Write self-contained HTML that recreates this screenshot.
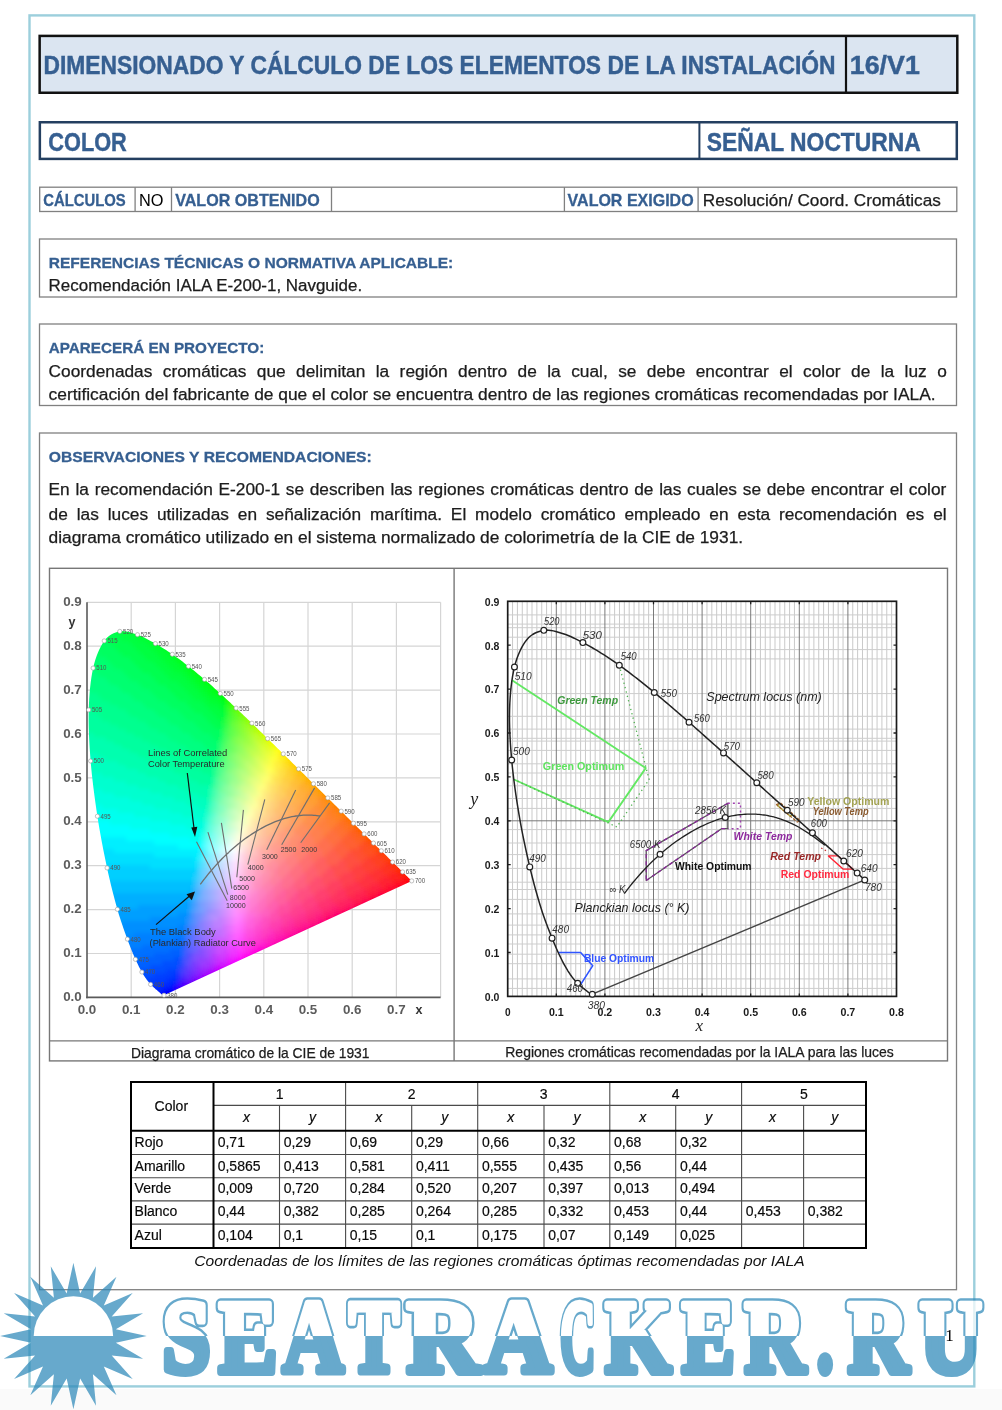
<!DOCTYPE html>
<html><head><meta charset="utf-8"><title>Color</title><style>
html,body{margin:0;padding:0;background:#fff;overflow:hidden}
svg{display:block}
text{font-family:"Liberation Sans",Arial,sans-serif}
text.ser{font-family:"Liberation Serif",serif}
</style></head><body>
<svg width="1002" height="1410" viewBox="0 0 1002 1410">
<rect x="0.00" y="1389.00" width="1002.00" height="21.00" fill="#fafafa"/>
<rect x="29.50" y="15.40" width="944.80" height="1371.00" fill="none" stroke="#9ccfdc" stroke-width="2.40"/>
<rect x="39.65" y="35.90" width="917.65" height="56.85" fill="#DBE5F1" stroke="#111" stroke-width="2.50"/>
<line x1="846.00" y1="35.90" x2="846.00" y2="92.75" stroke="#111" stroke-width="2.20"/>
<text x="43.50" y="74.40" font-size="25.60" fill="#365F91" font-weight="bold" stroke="#365F91" stroke-width="0.45" textLength="792.00" lengthAdjust="spacingAndGlyphs">DIMENSIONADO Y CÁLCULO DE LOS ELEMENTOS DE LA INSTALACIÓN</text>
<text x="849.80" y="74.40" font-size="25.60" fill="#365F91" font-weight="bold" stroke="#365F91" stroke-width="0.45" textLength="70.00" lengthAdjust="spacingAndGlyphs">16/V1</text>
<rect x="39.85" y="122.25" width="916.95" height="36.65" fill="#fff" stroke="#243F60" stroke-width="2.50"/>
<line x1="699.40" y1="122.25" x2="699.40" y2="158.90" stroke="#243F60" stroke-width="2.00"/>
<text x="48.30" y="150.90" font-size="25.40" fill="#365F91" font-weight="bold" stroke="#365F91" stroke-width="0.45" textLength="78.50" lengthAdjust="spacingAndGlyphs">COLOR</text>
<text x="706.80" y="150.50" font-size="25.40" fill="#365F91" font-weight="bold" stroke="#365F91" stroke-width="0.45" textLength="214.00" lengthAdjust="spacingAndGlyphs">SEÑAL NOCTURNA</text>
<rect x="39.70" y="187.20" width="917.10" height="24.30" fill="none" stroke="#808080" stroke-width="1.30"/>
<line x1="135.10" y1="187.20" x2="135.10" y2="211.50" stroke="#808080" stroke-width="1.30"/>
<line x1="171.50" y1="187.20" x2="171.50" y2="211.50" stroke="#808080" stroke-width="1.30"/>
<line x1="331.50" y1="187.20" x2="331.50" y2="211.50" stroke="#808080" stroke-width="1.30"/>
<line x1="564.40" y1="187.20" x2="564.40" y2="211.50" stroke="#808080" stroke-width="1.30"/>
<line x1="698.10" y1="187.20" x2="698.10" y2="211.50" stroke="#808080" stroke-width="1.30"/>
<text x="43.20" y="206.00" font-size="16.40" fill="#365F91" font-weight="bold" stroke="#365F91" stroke-width="0.30" textLength="82.50" lengthAdjust="spacingAndGlyphs">CÁLCULOS</text>
<text x="139.00" y="206.00" font-size="16.40" fill="#000" textLength="24.50" lengthAdjust="spacingAndGlyphs">NO</text>
<text x="175.20" y="206.00" font-size="16.40" fill="#365F91" font-weight="bold" stroke="#365F91" stroke-width="0.30" textLength="144.50" lengthAdjust="spacingAndGlyphs">VALOR OBTENIDO</text>
<text x="567.60" y="206.00" font-size="16.40" fill="#365F91" font-weight="bold" stroke="#365F91" stroke-width="0.30" textLength="126.00" lengthAdjust="spacingAndGlyphs">VALOR EXIGIDO</text>
<text x="702.80" y="206.00" font-size="16.40" fill="#1c1c1c" stroke="#1c1c1c" stroke-width="0.25" textLength="238.00" lengthAdjust="spacingAndGlyphs">Resolución/ Coord. Cromáticas</text>
<rect x="39.50" y="239.00" width="917.00" height="58.00" fill="none" stroke="#808080" stroke-width="1.30"/>
<text x="48.80" y="268.00" font-size="15.50" fill="#365F91" font-weight="bold" stroke="#365F91" stroke-width="0.30" textLength="404.50" lengthAdjust="spacingAndGlyphs">REFERENCIAS TÉCNICAS O NORMATIVA APLICABLE:</text>
<text x="48.60" y="291.00" font-size="16.00" fill="#1c1c1c" stroke="#1c1c1c" stroke-width="0.25" textLength="313.50" lengthAdjust="spacingAndGlyphs">Recomendación IALA E-200-1, Navguide.</text>
<rect x="39.50" y="324.00" width="917.00" height="81.50" fill="none" stroke="#808080" stroke-width="1.30"/>
<text x="48.80" y="353.40" font-size="15.50" fill="#365F91" font-weight="bold" stroke="#365F91" stroke-width="0.30" textLength="215.50" lengthAdjust="spacingAndGlyphs">APARECERÁ EN PROYECTO:</text>
<text x="48.60" y="376.50" font-size="16.00" fill="#1c1c1c" stroke="#1c1c1c" stroke-width="0.25" textLength="103.76" lengthAdjust="spacingAndGlyphs">Coordenadas</text>
<text x="162.82" y="376.50" font-size="16.00" fill="#1c1c1c" stroke="#1c1c1c" stroke-width="0.25" textLength="83.54" lengthAdjust="spacingAndGlyphs">cromáticas</text>
<text x="256.82" y="376.50" font-size="16.00" fill="#1c1c1c" stroke="#1c1c1c" stroke-width="0.25" textLength="28.83" lengthAdjust="spacingAndGlyphs">que</text>
<text x="296.11" y="376.50" font-size="16.00" fill="#1c1c1c" stroke="#1c1c1c" stroke-width="0.25" textLength="69.16" lengthAdjust="spacingAndGlyphs">delimitan</text>
<text x="375.73" y="376.50" font-size="16.00" fill="#1c1c1c" stroke="#1c1c1c" stroke-width="0.25" textLength="13.45" lengthAdjust="spacingAndGlyphs">la</text>
<text x="399.64" y="376.50" font-size="16.00" fill="#1c1c1c" stroke="#1c1c1c" stroke-width="0.25" textLength="48.04" lengthAdjust="spacingAndGlyphs">región</text>
<text x="458.14" y="376.50" font-size="16.00" fill="#1c1c1c" stroke="#1c1c1c" stroke-width="0.25" textLength="49.00" lengthAdjust="spacingAndGlyphs">dentro</text>
<text x="517.59" y="376.50" font-size="16.00" fill="#1c1c1c" stroke="#1c1c1c" stroke-width="0.25" textLength="19.22" lengthAdjust="spacingAndGlyphs">de</text>
<text x="547.28" y="376.50" font-size="16.00" fill="#1c1c1c" stroke="#1c1c1c" stroke-width="0.25" textLength="13.45" lengthAdjust="spacingAndGlyphs">la</text>
<text x="571.19" y="376.50" font-size="16.00" fill="#1c1c1c" stroke="#1c1c1c" stroke-width="0.25" textLength="36.50" lengthAdjust="spacingAndGlyphs">cual,</text>
<text x="618.15" y="376.50" font-size="16.00" fill="#1c1c1c" stroke="#1c1c1c" stroke-width="0.25" textLength="18.25" lengthAdjust="spacingAndGlyphs">se</text>
<text x="646.86" y="376.50" font-size="16.00" fill="#1c1c1c" stroke="#1c1c1c" stroke-width="0.25" textLength="38.44" lengthAdjust="spacingAndGlyphs">debe</text>
<text x="695.76" y="376.50" font-size="16.00" fill="#1c1c1c" stroke="#1c1c1c" stroke-width="0.25" textLength="73.00" lengthAdjust="spacingAndGlyphs">encontrar</text>
<text x="779.22" y="376.50" font-size="16.00" fill="#1c1c1c" stroke="#1c1c1c" stroke-width="0.25" textLength="13.45" lengthAdjust="spacingAndGlyphs">el</text>
<text x="803.13" y="376.50" font-size="16.00" fill="#1c1c1c" stroke="#1c1c1c" stroke-width="0.25" textLength="37.46" lengthAdjust="spacingAndGlyphs">color</text>
<text x="851.05" y="376.50" font-size="16.00" fill="#1c1c1c" stroke="#1c1c1c" stroke-width="0.25" textLength="19.22" lengthAdjust="spacingAndGlyphs">de</text>
<text x="880.73" y="376.50" font-size="16.00" fill="#1c1c1c" stroke="#1c1c1c" stroke-width="0.25" textLength="13.45" lengthAdjust="spacingAndGlyphs">la</text>
<text x="904.64" y="376.50" font-size="16.00" fill="#1c1c1c" stroke="#1c1c1c" stroke-width="0.25" textLength="22.09" lengthAdjust="spacingAndGlyphs">luz</text>
<text x="937.19" y="376.50" font-size="16.00" fill="#1c1c1c" stroke="#1c1c1c" stroke-width="0.25" textLength="9.61" lengthAdjust="spacingAndGlyphs">o</text>
<text x="48.60" y="400.30" font-size="16.00" fill="#1c1c1c" stroke="#1c1c1c" stroke-width="0.25" textLength="887.00" lengthAdjust="spacingAndGlyphs">certificación del fabricante de que el color se encuentra dentro de las regiones cromáticas recomendadas por IALA.</text>
<rect x="39.50" y="433.00" width="917.00" height="856.70" fill="none" stroke="#808080" stroke-width="1.30"/>
<text x="48.80" y="462.20" font-size="15.50" fill="#365F91" font-weight="bold" stroke="#365F91" stroke-width="0.30" textLength="323.00" lengthAdjust="spacingAndGlyphs">OBSERVACIONES Y RECOMENDACIONES:</text>
<text x="48.60" y="495.40" font-size="16.00" fill="#1c1c1c" stroke="#1c1c1c" stroke-width="0.25" textLength="21.14" lengthAdjust="spacingAndGlyphs">En</text>
<text x="75.47" y="495.40" font-size="16.00" fill="#1c1c1c" stroke="#1c1c1c" stroke-width="0.25" textLength="13.45" lengthAdjust="spacingAndGlyphs">la</text>
<text x="94.66" y="495.40" font-size="16.00" fill="#1c1c1c" stroke="#1c1c1c" stroke-width="0.25" textLength="118.15" lengthAdjust="spacingAndGlyphs">recomendación</text>
<text x="218.55" y="495.40" font-size="16.00" fill="#1c1c1c" stroke="#1c1c1c" stroke-width="0.25" textLength="61.48" lengthAdjust="spacingAndGlyphs">E-200-1</text>
<text x="285.77" y="495.40" font-size="16.00" fill="#1c1c1c" stroke="#1c1c1c" stroke-width="0.25" textLength="18.25" lengthAdjust="spacingAndGlyphs">se</text>
<text x="309.75" y="495.40" font-size="16.00" fill="#1c1c1c" stroke="#1c1c1c" stroke-width="0.25" textLength="74.93" lengthAdjust="spacingAndGlyphs">describen</text>
<text x="390.42" y="495.40" font-size="16.00" fill="#1c1c1c" stroke="#1c1c1c" stroke-width="0.25" textLength="22.09" lengthAdjust="spacingAndGlyphs">las</text>
<text x="418.24" y="495.40" font-size="16.00" fill="#1c1c1c" stroke="#1c1c1c" stroke-width="0.25" textLength="66.29" lengthAdjust="spacingAndGlyphs">regiones</text>
<text x="490.27" y="495.40" font-size="16.00" fill="#1c1c1c" stroke="#1c1c1c" stroke-width="0.25" textLength="83.54" lengthAdjust="spacingAndGlyphs">cromáticas</text>
<text x="579.55" y="495.40" font-size="16.00" fill="#1c1c1c" stroke="#1c1c1c" stroke-width="0.25" textLength="49.00" lengthAdjust="spacingAndGlyphs">dentro</text>
<text x="634.28" y="495.40" font-size="16.00" fill="#1c1c1c" stroke="#1c1c1c" stroke-width="0.25" textLength="19.22" lengthAdjust="spacingAndGlyphs">de</text>
<text x="659.24" y="495.40" font-size="16.00" fill="#1c1c1c" stroke="#1c1c1c" stroke-width="0.25" textLength="22.09" lengthAdjust="spacingAndGlyphs">las</text>
<text x="687.06" y="495.40" font-size="16.00" fill="#1c1c1c" stroke="#1c1c1c" stroke-width="0.25" textLength="49.95" lengthAdjust="spacingAndGlyphs">cuales</text>
<text x="742.75" y="495.40" font-size="16.00" fill="#1c1c1c" stroke="#1c1c1c" stroke-width="0.25" textLength="18.25" lengthAdjust="spacingAndGlyphs">se</text>
<text x="766.74" y="495.40" font-size="16.00" fill="#1c1c1c" stroke="#1c1c1c" stroke-width="0.25" textLength="38.44" lengthAdjust="spacingAndGlyphs">debe</text>
<text x="810.92" y="495.40" font-size="16.00" fill="#1c1c1c" stroke="#1c1c1c" stroke-width="0.25" textLength="73.00" lengthAdjust="spacingAndGlyphs">encontrar</text>
<text x="889.66" y="495.40" font-size="16.00" fill="#1c1c1c" stroke="#1c1c1c" stroke-width="0.25" textLength="13.45" lengthAdjust="spacingAndGlyphs">el</text>
<text x="908.84" y="495.40" font-size="16.00" fill="#1c1c1c" stroke="#1c1c1c" stroke-width="0.25" textLength="37.46" lengthAdjust="spacingAndGlyphs">color</text>
<text x="48.60" y="519.60" font-size="16.00" fill="#1c1c1c" stroke="#1c1c1c" stroke-width="0.25" textLength="19.22" lengthAdjust="spacingAndGlyphs">de</text>
<text x="76.71" y="519.60" font-size="16.00" fill="#1c1c1c" stroke="#1c1c1c" stroke-width="0.25" textLength="22.09" lengthAdjust="spacingAndGlyphs">las</text>
<text x="107.70" y="519.60" font-size="16.00" fill="#1c1c1c" stroke="#1c1c1c" stroke-width="0.25" textLength="40.34" lengthAdjust="spacingAndGlyphs">luces</text>
<text x="156.93" y="519.60" font-size="16.00" fill="#1c1c1c" stroke="#1c1c1c" stroke-width="0.25" textLength="72.04" lengthAdjust="spacingAndGlyphs">utilizadas</text>
<text x="237.87" y="519.60" font-size="16.00" fill="#1c1c1c" stroke="#1c1c1c" stroke-width="0.25" textLength="19.22" lengthAdjust="spacingAndGlyphs">en</text>
<text x="265.98" y="519.60" font-size="16.00" fill="#1c1c1c" stroke="#1c1c1c" stroke-width="0.25" textLength="95.10" lengthAdjust="spacingAndGlyphs">señalización</text>
<text x="369.97" y="519.60" font-size="16.00" fill="#1c1c1c" stroke="#1c1c1c" stroke-width="0.25" textLength="72.01" lengthAdjust="spacingAndGlyphs">marítima.</text>
<text x="450.87" y="519.60" font-size="16.00" fill="#1c1c1c" stroke="#1c1c1c" stroke-width="0.25" textLength="15.37" lengthAdjust="spacingAndGlyphs">El</text>
<text x="475.13" y="519.60" font-size="16.00" fill="#1c1c1c" stroke="#1c1c1c" stroke-width="0.25" textLength="56.68" lengthAdjust="spacingAndGlyphs">modelo</text>
<text x="540.70" y="519.60" font-size="16.00" fill="#1c1c1c" stroke="#1c1c1c" stroke-width="0.25" textLength="74.90" lengthAdjust="spacingAndGlyphs">cromático</text>
<text x="624.50" y="519.60" font-size="16.00" fill="#1c1c1c" stroke="#1c1c1c" stroke-width="0.25" textLength="75.90" lengthAdjust="spacingAndGlyphs">empleado</text>
<text x="709.29" y="519.60" font-size="16.00" fill="#1c1c1c" stroke="#1c1c1c" stroke-width="0.25" textLength="19.22" lengthAdjust="spacingAndGlyphs">en</text>
<text x="737.40" y="519.60" font-size="16.00" fill="#1c1c1c" stroke="#1c1c1c" stroke-width="0.25" textLength="32.66" lengthAdjust="spacingAndGlyphs">esta</text>
<text x="778.96" y="519.60" font-size="16.00" fill="#1c1c1c" stroke="#1c1c1c" stroke-width="0.25" textLength="118.15" lengthAdjust="spacingAndGlyphs">recomendación</text>
<text x="906.01" y="519.60" font-size="16.00" fill="#1c1c1c" stroke="#1c1c1c" stroke-width="0.25" textLength="18.25" lengthAdjust="spacingAndGlyphs">es</text>
<text x="933.15" y="519.60" font-size="16.00" fill="#1c1c1c" stroke="#1c1c1c" stroke-width="0.25" textLength="13.45" lengthAdjust="spacingAndGlyphs">el</text>
<text x="48.60" y="543.20" font-size="16.00" fill="#1c1c1c" stroke="#1c1c1c" stroke-width="0.25" textLength="694.50" lengthAdjust="spacingAndGlyphs">diagrama cromático utilizado en el sistema normalizado de colorimetría de la CIE de 1931.</text>
<rect x="49.50" y="568.30" width="898.00" height="492.60" fill="none" stroke="#777" stroke-width="1.40"/>
<line x1="454.10" y1="568.30" x2="454.10" y2="1060.90" stroke="#777" stroke-width="1.40"/>
<line x1="49.50" y1="1040.90" x2="947.50" y2="1040.90" stroke="#777" stroke-width="1.40"/>
<text x="131.00" y="1057.50" font-size="14.20" fill="#1c1c1c" stroke="#1c1c1c" stroke-width="0.25" textLength="238.50" lengthAdjust="spacingAndGlyphs">Diagrama cromático de la CIE de 1931</text>
<text x="505.30" y="1057.00" font-size="14.20" fill="#1c1c1c" stroke="#1c1c1c" stroke-width="0.25" textLength="388.50" lengthAdjust="spacingAndGlyphs">Regiones cromáticas recomendadas por la IALA para las luces</text>
<line x1="279.50" y1="1105.40" x2="279.50" y2="1248.00" stroke="#4a4a4a" stroke-width="1.10"/>
<line x1="345.60" y1="1082.00" x2="345.60" y2="1248.00" stroke="#4a4a4a" stroke-width="1.10"/>
<line x1="411.70" y1="1105.40" x2="411.70" y2="1248.00" stroke="#4a4a4a" stroke-width="1.10"/>
<line x1="477.70" y1="1082.00" x2="477.70" y2="1248.00" stroke="#4a4a4a" stroke-width="1.10"/>
<line x1="544.00" y1="1105.40" x2="544.00" y2="1248.00" stroke="#4a4a4a" stroke-width="1.10"/>
<line x1="609.80" y1="1082.00" x2="609.80" y2="1248.00" stroke="#4a4a4a" stroke-width="1.10"/>
<line x1="675.70" y1="1105.40" x2="675.70" y2="1248.00" stroke="#4a4a4a" stroke-width="1.10"/>
<line x1="741.60" y1="1082.00" x2="741.60" y2="1248.00" stroke="#4a4a4a" stroke-width="1.10"/>
<line x1="803.60" y1="1105.40" x2="803.60" y2="1248.00" stroke="#4a4a4a" stroke-width="1.10"/>
<line x1="213.50" y1="1105.40" x2="866.00" y2="1105.40" stroke="#4a4a4a" stroke-width="1.10"/>
<line x1="131.00" y1="1154.50" x2="866.00" y2="1154.50" stroke="#4a4a4a" stroke-width="1.10"/>
<line x1="131.00" y1="1177.70" x2="866.00" y2="1177.70" stroke="#4a4a4a" stroke-width="1.10"/>
<line x1="131.00" y1="1200.90" x2="866.00" y2="1200.90" stroke="#4a4a4a" stroke-width="1.10"/>
<line x1="131.00" y1="1224.10" x2="866.00" y2="1224.10" stroke="#4a4a4a" stroke-width="1.10"/>
<line x1="213.50" y1="1082.00" x2="213.50" y2="1248.00" stroke="#000" stroke-width="2.00"/>
<line x1="213.50" y1="1130.70" x2="866.00" y2="1130.70" stroke="#000" stroke-width="2.00"/>
<line x1="131.00" y1="1130.70" x2="213.50" y2="1130.70" stroke="#000" stroke-width="2.00"/>
<rect x="131.00" y="1082.00" width="735.00" height="166.00" fill="none" stroke="#000" stroke-width="2.00"/>
<text x="154.60" y="1110.60" font-size="14.00" fill="#0a0a0a" stroke="#0a0a0a" stroke-width="0.18">Color</text>
<text x="279.55" y="1098.50" font-size="14.00" fill="#0a0a0a" text-anchor="middle" stroke="#0a0a0a" stroke-width="0.18">1</text>
<text x="246.50" y="1122.10" font-size="14.00" fill="#0a0a0a" font-style="italic" text-anchor="middle" stroke="#0a0a0a" stroke-width="0.15">x</text>
<text x="312.55" y="1122.10" font-size="14.00" fill="#0a0a0a" font-style="italic" text-anchor="middle" stroke="#0a0a0a" stroke-width="0.15">y</text>
<text x="411.65" y="1098.50" font-size="14.00" fill="#0a0a0a" text-anchor="middle" stroke="#0a0a0a" stroke-width="0.18">2</text>
<text x="378.65" y="1122.10" font-size="14.00" fill="#0a0a0a" font-style="italic" text-anchor="middle" stroke="#0a0a0a" stroke-width="0.15">x</text>
<text x="444.70" y="1122.10" font-size="14.00" fill="#0a0a0a" font-style="italic" text-anchor="middle" stroke="#0a0a0a" stroke-width="0.15">y</text>
<text x="543.75" y="1098.50" font-size="14.00" fill="#0a0a0a" text-anchor="middle" stroke="#0a0a0a" stroke-width="0.18">3</text>
<text x="510.85" y="1122.10" font-size="14.00" fill="#0a0a0a" font-style="italic" text-anchor="middle" stroke="#0a0a0a" stroke-width="0.15">x</text>
<text x="576.90" y="1122.10" font-size="14.00" fill="#0a0a0a" font-style="italic" text-anchor="middle" stroke="#0a0a0a" stroke-width="0.15">y</text>
<text x="675.70" y="1098.50" font-size="14.00" fill="#0a0a0a" text-anchor="middle" stroke="#0a0a0a" stroke-width="0.18">4</text>
<text x="642.75" y="1122.10" font-size="14.00" fill="#0a0a0a" font-style="italic" text-anchor="middle" stroke="#0a0a0a" stroke-width="0.15">x</text>
<text x="708.65" y="1122.10" font-size="14.00" fill="#0a0a0a" font-style="italic" text-anchor="middle" stroke="#0a0a0a" stroke-width="0.15">y</text>
<text x="803.80" y="1098.50" font-size="14.00" fill="#0a0a0a" text-anchor="middle" stroke="#0a0a0a" stroke-width="0.18">5</text>
<text x="772.60" y="1122.10" font-size="14.00" fill="#0a0a0a" font-style="italic" text-anchor="middle" stroke="#0a0a0a" stroke-width="0.15">x</text>
<text x="834.80" y="1122.10" font-size="14.00" fill="#0a0a0a" font-style="italic" text-anchor="middle" stroke="#0a0a0a" stroke-width="0.15">y</text>
<text x="134.60" y="1147.40" font-size="14.00" fill="#0a0a0a" stroke="#0a0a0a" stroke-width="0.18">Rojo</text>
<text x="217.70" y="1147.40" font-size="14.00" fill="#0a0a0a" stroke="#0a0a0a" stroke-width="0.18">0,71</text>
<text x="283.70" y="1147.40" font-size="14.00" fill="#0a0a0a" stroke="#0a0a0a" stroke-width="0.18">0,29</text>
<text x="349.80" y="1147.40" font-size="14.00" fill="#0a0a0a" stroke="#0a0a0a" stroke-width="0.18">0,69</text>
<text x="415.90" y="1147.40" font-size="14.00" fill="#0a0a0a" stroke="#0a0a0a" stroke-width="0.18">0,29</text>
<text x="481.90" y="1147.40" font-size="14.00" fill="#0a0a0a" stroke="#0a0a0a" stroke-width="0.18">0,66</text>
<text x="548.20" y="1147.40" font-size="14.00" fill="#0a0a0a" stroke="#0a0a0a" stroke-width="0.18">0,32</text>
<text x="614.00" y="1147.40" font-size="14.00" fill="#0a0a0a" stroke="#0a0a0a" stroke-width="0.18">0,68</text>
<text x="679.90" y="1147.40" font-size="14.00" fill="#0a0a0a" stroke="#0a0a0a" stroke-width="0.18">0,32</text>
<text x="134.60" y="1170.50" font-size="14.00" fill="#0a0a0a" stroke="#0a0a0a" stroke-width="0.18">Amarillo</text>
<text x="217.70" y="1170.50" font-size="14.00" fill="#0a0a0a" stroke="#0a0a0a" stroke-width="0.18">0,5865</text>
<text x="283.70" y="1170.50" font-size="14.00" fill="#0a0a0a" stroke="#0a0a0a" stroke-width="0.18">0,413</text>
<text x="349.80" y="1170.50" font-size="14.00" fill="#0a0a0a" stroke="#0a0a0a" stroke-width="0.18">0,581</text>
<text x="415.90" y="1170.50" font-size="14.00" fill="#0a0a0a" stroke="#0a0a0a" stroke-width="0.18">0,411</text>
<text x="481.90" y="1170.50" font-size="14.00" fill="#0a0a0a" stroke="#0a0a0a" stroke-width="0.18">0,555</text>
<text x="548.20" y="1170.50" font-size="14.00" fill="#0a0a0a" stroke="#0a0a0a" stroke-width="0.18">0,435</text>
<text x="614.00" y="1170.50" font-size="14.00" fill="#0a0a0a" stroke="#0a0a0a" stroke-width="0.18">0,56</text>
<text x="679.90" y="1170.50" font-size="14.00" fill="#0a0a0a" stroke="#0a0a0a" stroke-width="0.18">0,44</text>
<text x="134.60" y="1193.40" font-size="14.00" fill="#0a0a0a" stroke="#0a0a0a" stroke-width="0.18">Verde</text>
<text x="217.70" y="1193.40" font-size="14.00" fill="#0a0a0a" stroke="#0a0a0a" stroke-width="0.18">0,009</text>
<text x="283.70" y="1193.40" font-size="14.00" fill="#0a0a0a" stroke="#0a0a0a" stroke-width="0.18">0,720</text>
<text x="349.80" y="1193.40" font-size="14.00" fill="#0a0a0a" stroke="#0a0a0a" stroke-width="0.18">0,284</text>
<text x="415.90" y="1193.40" font-size="14.00" fill="#0a0a0a" stroke="#0a0a0a" stroke-width="0.18">0,520</text>
<text x="481.90" y="1193.40" font-size="14.00" fill="#0a0a0a" stroke="#0a0a0a" stroke-width="0.18">0,207</text>
<text x="548.20" y="1193.40" font-size="14.00" fill="#0a0a0a" stroke="#0a0a0a" stroke-width="0.18">0,397</text>
<text x="614.00" y="1193.40" font-size="14.00" fill="#0a0a0a" stroke="#0a0a0a" stroke-width="0.18">0,013</text>
<text x="679.90" y="1193.40" font-size="14.00" fill="#0a0a0a" stroke="#0a0a0a" stroke-width="0.18">0,494</text>
<text x="134.60" y="1216.40" font-size="14.00" fill="#0a0a0a" stroke="#0a0a0a" stroke-width="0.18">Blanco</text>
<text x="217.70" y="1216.40" font-size="14.00" fill="#0a0a0a" stroke="#0a0a0a" stroke-width="0.18">0,44</text>
<text x="283.70" y="1216.40" font-size="14.00" fill="#0a0a0a" stroke="#0a0a0a" stroke-width="0.18">0,382</text>
<text x="349.80" y="1216.40" font-size="14.00" fill="#0a0a0a" stroke="#0a0a0a" stroke-width="0.18">0,285</text>
<text x="415.90" y="1216.40" font-size="14.00" fill="#0a0a0a" stroke="#0a0a0a" stroke-width="0.18">0,264</text>
<text x="481.90" y="1216.40" font-size="14.00" fill="#0a0a0a" stroke="#0a0a0a" stroke-width="0.18">0,285</text>
<text x="548.20" y="1216.40" font-size="14.00" fill="#0a0a0a" stroke="#0a0a0a" stroke-width="0.18">0,332</text>
<text x="614.00" y="1216.40" font-size="14.00" fill="#0a0a0a" stroke="#0a0a0a" stroke-width="0.18">0,453</text>
<text x="679.90" y="1216.40" font-size="14.00" fill="#0a0a0a" stroke="#0a0a0a" stroke-width="0.18">0,44</text>
<text x="745.80" y="1216.40" font-size="14.00" fill="#0a0a0a" stroke="#0a0a0a" stroke-width="0.18">0,453</text>
<text x="807.80" y="1216.40" font-size="14.00" fill="#0a0a0a" stroke="#0a0a0a" stroke-width="0.18">0,382</text>
<text x="134.60" y="1239.80" font-size="14.00" fill="#0a0a0a" stroke="#0a0a0a" stroke-width="0.18">Azul</text>
<text x="217.70" y="1239.80" font-size="14.00" fill="#0a0a0a" stroke="#0a0a0a" stroke-width="0.18">0,104</text>
<text x="283.70" y="1239.80" font-size="14.00" fill="#0a0a0a" stroke="#0a0a0a" stroke-width="0.18">0,1</text>
<text x="349.80" y="1239.80" font-size="14.00" fill="#0a0a0a" stroke="#0a0a0a" stroke-width="0.18">0,15</text>
<text x="415.90" y="1239.80" font-size="14.00" fill="#0a0a0a" stroke="#0a0a0a" stroke-width="0.18">0,1</text>
<text x="481.90" y="1239.80" font-size="14.00" fill="#0a0a0a" stroke="#0a0a0a" stroke-width="0.18">0,175</text>
<text x="548.20" y="1239.80" font-size="14.00" fill="#0a0a0a" stroke="#0a0a0a" stroke-width="0.18">0,07</text>
<text x="614.00" y="1239.80" font-size="14.00" fill="#0a0a0a" stroke="#0a0a0a" stroke-width="0.18">0,149</text>
<text x="679.90" y="1239.80" font-size="14.00" fill="#0a0a0a" stroke="#0a0a0a" stroke-width="0.18">0,025</text>
<text x="194.20" y="1266.30" font-size="15.30" fill="#111" font-style="italic" textLength="610.50" lengthAdjust="spacingAndGlyphs">Coordenadas de los límites de las regiones cromáticas óptimas recomendadas por IALA</text>
<line x1="131.20" y1="602.30" x2="131.20" y2="997.40" stroke="#d5d5d5" stroke-width="1.20"/>
<line x1="175.40" y1="602.30" x2="175.40" y2="997.40" stroke="#d5d5d5" stroke-width="1.20"/>
<line x1="219.60" y1="602.30" x2="219.60" y2="997.40" stroke="#d5d5d5" stroke-width="1.20"/>
<line x1="263.80" y1="602.30" x2="263.80" y2="997.40" stroke="#d5d5d5" stroke-width="1.20"/>
<line x1="308.00" y1="602.30" x2="308.00" y2="997.40" stroke="#d5d5d5" stroke-width="1.20"/>
<line x1="352.20" y1="602.30" x2="352.20" y2="997.40" stroke="#d5d5d5" stroke-width="1.20"/>
<line x1="396.40" y1="602.30" x2="396.40" y2="997.40" stroke="#d5d5d5" stroke-width="1.20"/>
<line x1="440.60" y1="602.30" x2="440.60" y2="997.40" stroke="#d5d5d5" stroke-width="1.20"/>
<line x1="87.00" y1="953.50" x2="440.60" y2="953.50" stroke="#d5d5d5" stroke-width="1.20"/>
<line x1="87.00" y1="909.60" x2="440.60" y2="909.60" stroke="#d5d5d5" stroke-width="1.20"/>
<line x1="87.00" y1="865.70" x2="440.60" y2="865.70" stroke="#d5d5d5" stroke-width="1.20"/>
<line x1="87.00" y1="821.80" x2="440.60" y2="821.80" stroke="#d5d5d5" stroke-width="1.20"/>
<line x1="87.00" y1="777.90" x2="440.60" y2="777.90" stroke="#d5d5d5" stroke-width="1.20"/>
<line x1="87.00" y1="734.00" x2="440.60" y2="734.00" stroke="#d5d5d5" stroke-width="1.20"/>
<line x1="87.00" y1="690.10" x2="440.60" y2="690.10" stroke="#d5d5d5" stroke-width="1.20"/>
<line x1="87.00" y1="646.20" x2="440.60" y2="646.20" stroke="#d5d5d5" stroke-width="1.20"/>
<line x1="87.00" y1="602.30" x2="440.60" y2="602.30" stroke="#d5d5d5" stroke-width="1.20"/>
<defs><clipPath id="hs"><path d="M163.95 995.20 L163.92 995.21 L163.89 995.22 L163.84 995.24 L163.79 995.25 L163.74 995.26 L163.69 995.27 L163.64 995.29 L163.60 995.29 L163.56 995.30 L163.52 995.30 L163.49 995.31 L163.45 995.31 L163.42 995.31 L163.38 995.30 L163.34 995.30 L163.29 995.29 L163.24 995.29 L163.19 995.28 L163.13 995.28 L163.07 995.28 L163.01 995.26 L162.94 995.24 L162.85 995.21 L162.76 995.16 L162.65 995.10 L162.54 995.03 L162.43 994.96 L162.30 994.87 L162.16 994.77 L162.01 994.65 L161.84 994.52 L161.65 994.37 L161.44 994.19 L161.21 993.99 L160.95 993.76 L160.68 993.52 L160.41 993.28 L160.15 993.04 L159.89 992.82 L159.66 992.61 L159.46 992.44 L159.28 992.27 L159.10 992.12 L158.94 991.98 L158.77 991.83 L158.60 991.68 L158.41 991.52 L158.21 991.34 L157.99 991.15 L157.76 990.96 L157.52 990.75 L157.28 990.54 L157.02 990.33 L156.76 990.10 L156.49 989.87 L156.22 989.63 L155.94 989.38 L155.65 989.14 L155.35 988.88 L155.05 988.62 L154.74 988.34 L154.42 988.06 L154.08 987.75 L153.74 987.43 L153.39 987.10 L153.03 986.76 L152.66 986.41 L152.28 986.04 L151.88 985.66 L151.48 985.25 L151.07 984.82 L150.65 984.36 L150.22 983.89 L149.79 983.42 L149.34 982.93 L148.89 982.42 L148.42 981.87 L147.94 981.27 L147.43 980.61 L146.89 979.88 L146.33 979.10 L145.75 978.27 L145.16 977.40 L144.54 976.47 L143.90 975.48 L143.24 974.41 L142.56 973.26 L141.85 972.03 L141.13 970.72 L140.39 969.36 L139.62 967.93 L138.84 966.43 L138.03 964.83 L137.20 963.11 L136.33 961.27 L135.44 959.29 L134.53 957.20 L133.58 955.01 L132.62 952.71 L131.62 950.29 L130.60 947.74 L129.55 945.04 L128.47 942.18 L127.35 939.14 L126.20 935.96 L125.00 932.63 L123.76 929.17 L122.50 925.55 L121.22 921.76 L119.93 917.79 L118.64 913.64 L117.37 909.29 L116.09 904.74 L114.80 900.00 L113.50 895.07 L112.20 889.96 L110.90 884.68 L109.61 879.24 L108.33 873.64 L107.07 867.89 L105.81 861.95 L104.53 855.78 L103.26 849.43 L102.01 842.92 L100.78 836.31 L99.59 829.63 L98.45 822.92 L97.39 816.22 L96.37 809.47 L95.38 802.58 L94.42 795.61 L93.52 788.60 L92.68 781.59 L91.90 774.63 L91.22 767.77 L90.62 761.04 L90.11 754.40 L89.66 747.76 L89.28 741.18 L88.98 734.66 L88.76 728.25 L88.64 721.97 L88.63 715.86 L88.72 709.94 L88.93 704.17 L89.23 698.48 L89.63 692.91 L90.12 687.50 L90.72 682.28 L91.42 677.28 L92.23 672.53 L93.14 668.06 L94.18 663.85 L95.33 659.83 L96.60 656.04 L97.97 652.48 L99.42 649.17 L100.95 646.13 L102.55 643.38 L104.19 640.93 L105.92 638.81 L107.74 637.00 L109.64 635.49 L111.61 634.24 L113.63 633.23 L115.68 632.44 L117.76 631.82 L119.84 631.36 L121.95 631.12 L124.10 631.16 L126.30 631.42 L128.52 631.87 L130.76 632.47 L133.00 633.17 L135.25 633.93 L137.48 634.70 L139.71 635.53 L141.96 636.49 L144.21 637.55 L146.47 638.70 L148.73 639.89 L150.97 641.13 L153.19 642.37 L155.38 643.61 L157.54 644.85 L159.69 646.12 L161.81 647.42 L163.92 648.75 L166.02 650.10 L168.11 651.48 L170.19 652.87 L172.26 654.28 L174.32 655.70 L176.37 657.15 L178.40 658.62 L180.43 660.11 L182.45 661.62 L184.46 663.15 L186.47 664.70 L188.48 666.26 L190.50 667.85 L192.50 669.45 L194.51 671.08 L196.51 672.72 L198.51 674.38 L200.50 676.05 L202.49 677.74 L204.48 679.43 L206.47 681.14 L208.45 682.87 L210.43 684.61 L212.41 686.36 L214.38 688.13 L216.36 689.90 L218.33 691.69 L220.31 693.48 L222.28 695.28 L224.25 697.09 L226.23 698.91 L228.20 700.75 L230.17 702.59 L232.14 704.43 L234.11 706.28 L236.09 708.14 L238.06 710.01 L240.04 711.88 L242.02 713.76 L244.00 715.65 L245.98 717.55 L247.96 719.44 L249.94 721.34 L251.91 723.24 L253.88 725.15 L255.85 727.06 L257.82 728.97 L259.79 730.89 L261.76 732.81 L263.72 734.73 L265.68 736.65 L267.65 738.57 L269.61 740.48 L271.57 742.40 L273.53 744.32 L275.49 746.24 L277.45 748.15 L279.40 750.07 L281.35 751.98 L283.29 753.89 L285.23 755.79 L287.16 757.69 L289.09 759.60 L291.01 761.50 L292.92 763.39 L294.83 765.28 L296.74 767.16 L298.63 769.03 L300.52 770.90 L302.40 772.76 L304.27 774.62 L306.14 776.47 L308.00 778.31 L309.86 780.15 L311.70 781.97 L313.52 783.78 L315.34 785.58 L317.16 787.38 L318.96 789.17 L320.75 790.94 L322.54 792.71 L324.31 794.46 L326.06 796.20 L327.80 797.92 L329.53 799.63 L331.25 801.32 L332.95 803.00 L334.65 804.67 L336.32 806.32 L337.98 807.96 L339.62 809.58 L341.24 811.18 L342.84 812.76 L344.42 814.33 L345.99 815.89 L347.53 817.43 L349.06 818.94 L350.56 820.44 L352.04 821.90 L353.48 823.34 L354.90 824.74 L356.29 826.11 L357.65 827.46 L358.99 828.79 L360.30 830.09 L361.60 831.37 L362.87 832.63 L364.13 833.87 L365.38 835.10 L366.60 836.32 L367.81 837.51 L369.00 838.69 L370.16 839.84 L371.30 840.96 L372.42 842.06 L373.50 843.14 L374.56 844.18 L375.60 845.19 L376.60 846.18 L377.58 847.14 L378.54 848.08 L379.48 849.00 L380.39 849.90 L381.28 850.77 L382.15 851.63 L383.00 852.47 L383.82 853.28 L384.62 854.08 L385.39 854.85 L386.15 855.60 L386.89 856.34 L387.60 857.05 L388.30 857.75 L388.98 858.42 L389.63 859.07 L390.27 859.70 L390.88 860.31 L391.48 860.91 L392.07 861.49 L392.64 862.06 L393.20 862.61 L393.74 863.14 L394.26 863.65 L394.77 864.14 L395.26 864.63 L395.74 865.10 L396.21 865.56 L396.67 866.01 L397.11 866.45 L397.54 866.87 L397.96 867.29 L398.36 867.69 L398.76 868.08 L399.14 868.47 L399.52 868.84 L399.89 869.21 L400.26 869.58 L400.61 869.93 L400.96 870.28 L401.30 870.61 L401.64 870.94 L401.96 871.27 L402.28 871.58 L402.59 871.89 L402.88 872.18 L403.15 872.45 L403.41 872.71 L403.67 872.97 L403.93 873.22 L404.19 873.49 L404.48 873.77 L404.80 874.08 L405.15 874.43 L405.54 874.81 L405.95 875.22 L406.37 875.63 L406.79 876.03 L407.19 876.43 L407.56 876.79 L407.89 877.11 L408.18 877.40 L408.45 877.66 L408.69 877.90 L408.91 878.13 L409.12 878.33 L409.31 878.52 L409.49 878.70 L409.66 878.87 L409.81 879.02 L409.95 879.16 L410.07 879.28 L410.17 879.38 L410.27 879.48 L410.36 879.57 L410.45 879.66 L410.54 879.75 L410.63 879.84 L410.72 879.92 L410.80 880.00 L410.87 880.07 L410.95 880.15 L411.02 880.22 L411.09 880.29 L411.16 880.36 L411.24 880.44 L411.32 880.52 L411.41 880.60 L411.49 880.69 L411.57 880.76 L411.64 880.83 L411.69 880.89 L411.74 880.93 Z"/></clipPath><filter id="bl" x="-5%" y="-5%" width="110%" height="110%"><feGaussianBlur stdDeviation="2.2"/></filter></defs>
<g clip-path="url(#hs)"><g filter="url(#bl)">
<path fill="#00ff40" d="M114 625h12v4h-12zM114 629h16v4h-16zM118 633h16v4h-16zM122 637h16v4h-16zM130 641h16v4h-16zM134 645h16v4h-16zM138 649h16v4h-16zM142 653h16v4h-16zM146 657h16v4h-16zM154 661h12v4h-12zM158 665h12v4h-12zM162 669h12v4h-12zM166 673h16v4h-16zM170 677h16v4h-16zM178 681h12v4h-12zM182 685h12v4h-12zM186 689h12v4h-12zM190 693h12v4h-12zM194 697h12v4h-12zM202 701h8v4h-8zM206 705h12v4h-12zM210 709h12v4h-12zM214 713h12v4h-12zM218 717h4v4h-4z"/>
<path fill="#00ff30" d="M126 625h8v4h-8zM130 629h12v4h-12zM134 633h12v4h-12zM138 637h12v4h-12zM146 641h8v4h-8zM150 645h12v4h-12zM154 649h12v4h-12zM158 653h12v4h-12zM162 657h12v4h-12zM166 661h12v4h-12zM170 665h12v4h-12zM174 669h12v4h-12zM182 673h8v4h-8zM186 677h8v4h-8zM190 681h8v4h-8zM194 685h8v4h-8zM198 689h8v4h-8zM202 693h8v4h-8zM206 697h12v4h-12zM210 701h12v4h-12zM218 705h8v4h-8zM222 709h4v4h-4z"/>
<path fill="#00ff50" d="M106 629h8v4h-8zM102 633h16v4h-16zM102 637h20v4h-20zM110 641h20v4h-20zM114 645h20v4h-20zM118 649h20v4h-20zM122 653h20v4h-20zM130 657h16v4h-16zM134 661h20v4h-20zM138 665h20v4h-20zM142 669h20v4h-20zM150 673h16v4h-16zM154 677h16v4h-16zM158 681h20v4h-20zM166 685h16v4h-16zM170 689h16v4h-16zM174 693h16v4h-16zM178 697h16v4h-16zM186 701h16v4h-16zM190 705h16v4h-16zM194 709h16v4h-16zM202 713h12v4h-12zM206 717h12v4h-12zM210 721h12v4h-12zM214 725h8v4h-8z"/>
<path fill="#00ff20" d="M142 629h4v4h-4zM146 633h8v4h-8zM150 637h8v4h-8zM154 641h8v4h-8zM162 645h4v4h-4zM166 649h4v4h-4zM170 653h4v4h-4zM174 657h4v4h-4zM178 661h8v4h-8zM182 665h8v4h-8zM186 669h8v4h-8zM190 673h8v4h-8zM194 677h8v4h-8zM198 681h8v4h-8zM202 685h8v4h-8zM206 689h8v4h-8zM210 693h8v4h-8zM218 697h4v4h-4zM222 701h4v4h-4z"/>
<path fill="#00ff60" d="M98 637h4v4h-4zM94 641h16v4h-16zM94 645h20v4h-20zM94 649h24v4h-24zM98 653h24v4h-24zM106 657h24v4h-24zM110 661h24v4h-24zM114 665h24v4h-24zM122 669h20v4h-20zM126 673h24v4h-24zM130 677h24v4h-24zM138 681h20v4h-20zM142 685h24v4h-24zM150 689h20v4h-20zM154 693h20v4h-20zM158 697h20v4h-20zM166 701h20v4h-20zM170 705h20v4h-20zM178 709h16v4h-16zM182 713h20v4h-20zM186 717h20v4h-20zM194 721h16v4h-16zM198 725h16v4h-16zM202 729h20v4h-20zM210 733h12v4h-12zM214 737h8v4h-8z"/>
<path fill="#00ff10" d="M162 641h4v4h-4zM166 645h4v4h-4zM170 649h4v4h-4zM174 653h4v4h-4zM178 657h4v4h-4zM206 681h4v4h-4zM210 685h4v4h-4zM214 689h4v4h-4zM218 693h4v4h-4zM222 697h4v4h-4z"/>
<path fill="#00ff00" d="M170 645h4v4h-4zM174 649h4v4h-4zM178 653h4v4h-4zM182 657h8v4h-8zM186 661h8v4h-8zM190 665h8v4h-8zM194 669h8v4h-8zM198 673h12v4h-12zM202 677h12v4h-12zM210 681h8v4h-8zM214 685h8v4h-8zM218 689h8v4h-8zM222 693h8v4h-8z"/>
<path fill="#00ff70" d="M90 653h8v4h-8zM90 657h16v4h-16zM90 661h20v4h-20zM86 665h28v4h-28zM94 669h28v4h-28zM98 673h28v4h-28zM106 677h24v4h-24zM110 681h28v4h-28zM118 685h24v4h-24zM122 689h28v4h-28zM130 693h24v4h-24zM134 697h24v4h-24zM142 701h24v4h-24zM146 705h24v4h-24zM154 709h24v4h-24zM158 713h24v4h-24zM166 717h20v4h-20zM170 721h24v4h-24zM178 725h20v4h-20zM182 729h20v4h-20zM190 733h20v4h-20zM194 737h20v4h-20zM202 741h16v4h-16zM206 745h12v4h-12zM214 749h4v4h-4z"/>
<path fill="#00ff80" d="M86 669h8v4h-8zM86 673h12v4h-12zM86 677h20v4h-20zM86 681h24v4h-24zM86 685h32v4h-32zM90 689h32v4h-32zM98 693h32v4h-32zM102 697h32v4h-32zM110 701h32v4h-32zM118 705h28v4h-28zM126 709h28v4h-28zM130 713h28v4h-28zM138 717h28v4h-28zM146 721h24v4h-24zM150 725h28v4h-28zM158 729h24v4h-24zM166 733h24v4h-24zM170 737h24v4h-24zM178 741h24v4h-24zM186 745h20v4h-20zM190 749h24v4h-24zM198 753h20v4h-20zM206 757h12v4h-12z"/>
<path fill="#00ff8f" d="M82 689h8v4h-8zM82 693h16v4h-16zM82 697h20v4h-20zM82 701h28v4h-28zM82 705h36v4h-36zM90 709h36v4h-36zM98 713h32v4h-32zM102 717h36v4h-36zM110 721h36v4h-36zM118 725h32v4h-32zM126 729h32v4h-32zM134 733h32v4h-32zM142 737h28v4h-28zM150 741h28v4h-28zM158 745h28v4h-28zM166 749h24v4h-24zM174 753h24v4h-24zM178 757h28v4h-28zM186 761h28v4h-28zM194 765h20v4h-20zM202 769h12v4h-12zM210 773h4v4h-4z"/>
<path fill="#20ff00" d="M226 697h4v4h-4z"/>
<path fill="#40ff00" d="M230 697h4v4h-4zM230 701h4v4h-4z"/>
<path fill="#20ff10" d="M226 701h4v4h-4z"/>
<path fill="#50ff00" d="M234 701h4v4h-4z"/>
<path fill="#30ff20" d="M226 705h4v4h-4z"/>
<path fill="#40ff10" d="M230 705h4v4h-4z"/>
<path fill="#60ff00" d="M234 705h4v4h-4z"/>
<path fill="#70ff00" d="M238 705h4v4h-4zM238 709h4v4h-4z"/>
<path fill="#00ff9f" d="M82 709h8v4h-8zM82 713h16v4h-16zM82 717h20v4h-20zM82 721h28v4h-28zM82 725h36v4h-36zM86 729h40v4h-40zM94 733h40v4h-40zM106 737h36v4h-36zM114 741h36v4h-36zM122 745h36v4h-36zM130 749h36v4h-36zM138 753h36v4h-36zM146 757h32v4h-32zM158 761h28v4h-28zM166 765h28v4h-28zM174 769h28v4h-28zM182 773h28v4h-28zM190 777h24v4h-24zM198 781h16v4h-16z"/>
<path fill="#30ff30" d="M226 709h4v4h-4zM226 713h4v4h-4z"/>
<path fill="#50ff20" d="M230 709h4v4h-4z"/>
<path fill="#60ff10" d="M234 709h4v4h-4z"/>
<path fill="#80ff00" d="M242 709h4v4h-4zM242 713h4v4h-4z"/>
<path fill="#50ff30" d="M230 713h4v4h-4zM230 717h4v4h-4z"/>
<path fill="#60ff20" d="M234 713h4v4h-4z"/>
<path fill="#70ff10" d="M238 713h4v4h-4z"/>
<path fill="#8fff00" d="M246 713h4v4h-4zM246 717h4v4h-4z"/>
<path fill="#10ff40" d="M222 717h4v4h-4z"/>
<path fill="#40ff40" d="M226 717h4v4h-4zM226 721h4v4h-4z"/>
<path fill="#60ff30" d="M234 717h4v4h-4z"/>
<path fill="#70ff20" d="M238 717h4v4h-4z"/>
<path fill="#80ff10" d="M242 717h4v4h-4z"/>
<path fill="#9fff00" d="M250 717h4v4h-4zM250 721h4v4h-4z"/>
<path fill="#afff00" d="M254 717h4v4h-4zM254 721h4v4h-4zM254 725h4v4h-4z"/>
<path fill="#20ff40" d="M222 721h4v4h-4z"/>
<path fill="#60ff40" d="M230 721h4v4h-4zM230 725h4v4h-4z"/>
<path fill="#70ff30" d="M234 721h4v4h-4z"/>
<path fill="#80ff30" d="M238 721h4v4h-4zM238 725h4v4h-4z"/>
<path fill="#8fff20" d="M242 721h4v4h-4z"/>
<path fill="#8fff10" d="M246 721h4v4h-4z"/>
<path fill="#bfff00" d="M258 721h4v4h-4zM258 725h8v4h-8zM258 729h4v4h-4z"/>
<path fill="#20ff50" d="M222 725h4v4h-4z"/>
<path fill="#40ff50" d="M226 725h4v4h-4z"/>
<path fill="#70ff40" d="M234 725h4v4h-4zM234 729h4v4h-4z"/>
<path fill="#8fff30" d="M242 725h4v4h-4zM242 729h4v4h-4z"/>
<path fill="#9fff20" d="M246 725h4v4h-4z"/>
<path fill="#9fff10" d="M250 725h4v4h-4z"/>
<path fill="#00ffaf" d="M82 729h4v4h-4zM82 733h12v4h-12zM82 737h24v4h-24zM82 741h32v4h-32zM82 745h40v4h-40zM86 749h44v4h-44zM98 753h40v4h-40zM106 757h40v4h-40zM118 761h40v4h-40zM126 765h40v4h-40zM138 769h36v4h-36zM146 773h36v4h-36zM158 777h32v4h-32zM166 781h32v4h-32zM178 785h32v4h-32zM186 789h24v4h-24zM198 793h12v4h-12zM206 797h4v4h-4z"/>
<path fill="#30ff50" d="M222 729h4v4h-4z"/>
<path fill="#50ff50" d="M226 729h4v4h-4zM226 733h4v4h-4z"/>
<path fill="#60ff50" d="M230 729h4v4h-4zM230 733h4v4h-4z"/>
<path fill="#80ff40" d="M238 729h4v4h-4zM238 733h4v4h-4z"/>
<path fill="#9fff30" d="M246 729h4v4h-4zM246 733h4v4h-4z"/>
<path fill="#afff20" d="M250 729h4v4h-4z"/>
<path fill="#afff10" d="M254 729h4v4h-4z"/>
<path fill="#cfff00" d="M262 729h8v4h-8zM262 733h8v4h-8z"/>
<path fill="#30ff60" d="M222 733h4v4h-4z"/>
<path fill="#70ff50" d="M234 733h4v4h-4zM230 737h4v4h-4z"/>
<path fill="#8fff40" d="M242 733h4v4h-4zM242 737h4v4h-4z"/>
<path fill="#afff30" d="M250 733h4v4h-4z"/>
<path fill="#bfff20" d="M254 733h4v4h-4zM258 737h4v4h-4z"/>
<path fill="#bfff10" d="M258 733h4v4h-4z"/>
<path fill="#dfff00" d="M270 733h4v4h-4zM266 737h8v4h-8z"/>
<path fill="#40ff60" d="M222 737h4v4h-4zM222 741h4v4h-4z"/>
<path fill="#50ff60" d="M226 737h4v4h-4z"/>
<path fill="#80ff50" d="M234 737h4v4h-4zM234 741h4v4h-4z"/>
<path fill="#8fff50" d="M238 737h4v4h-4zM238 741h4v4h-4z"/>
<path fill="#9fff40" d="M246 737h4v4h-4zM246 741h4v4h-4z"/>
<path fill="#afff40" d="M250 737h4v4h-4zM250 741h4v4h-4z"/>
<path fill="#bfff30" d="M254 737h4v4h-4z"/>
<path fill="#cfff10" d="M262 737h4v4h-4z"/>
<path fill="#efff00" d="M274 737h4v4h-4zM270 741h8v4h-8zM274 745h4v4h-4z"/>
<path fill="#20ff70" d="M218 741h4v4h-4zM218 745h4v4h-4z"/>
<path fill="#60ff60" d="M226 741h4v4h-4zM226 745h4v4h-4z"/>
<path fill="#70ff60" d="M230 741h4v4h-4zM230 745h4v4h-4zM230 749h4v4h-4z"/>
<path fill="#9fff50" d="M242 741h4v4h-4zM242 745h4v4h-4z"/>
<path fill="#bfff40" d="M254 741h4v4h-4zM254 745h4v4h-4z"/>
<path fill="#cfff30" d="M258 741h4v4h-4z"/>
<path fill="#cfff20" d="M262 741h4v4h-4z"/>
<path fill="#dfff10" d="M266 741h4v4h-4z"/>
<path fill="#ffff00" d="M278 741h4v4h-4zM278 745h4v4h-4zM278 749h4v4h-4z"/>
<path fill="#50ff70" d="M222 745h4v4h-4zM222 749h4v4h-4zM222 753h4v4h-4z"/>
<path fill="#80ff60" d="M234 745h4v4h-4zM234 749h4v4h-4z"/>
<path fill="#8fff60" d="M238 745h4v4h-4zM238 749h4v4h-4z"/>
<path fill="#afff50" d="M246 745h8v4h-8zM246 749h4v4h-4z"/>
<path fill="#cfff40" d="M258 745h4v4h-4zM258 749h4v4h-4z"/>
<path fill="#dfff30" d="M262 745h4v4h-4zM266 749h4v4h-4z"/>
<path fill="#dfff20" d="M266 745h4v4h-4z"/>
<path fill="#efff10" d="M270 745h4v4h-4z"/>
<path fill="#ffef00" d="M282 745h4v4h-4zM282 749h8v4h-8zM282 753h4v4h-4z"/>
<path fill="#00ffbf" d="M82 749h4v4h-4zM86 753h12v4h-12zM86 757h20v4h-20zM86 761h32v4h-32zM86 765h40v4h-40zM90 769h48v4h-48zM102 773h44v4h-44zM114 777h44v4h-44zM126 781h40v4h-40zM138 785h40v4h-40zM150 789h36v4h-36zM162 793h36v4h-36zM174 797h32v4h-32zM186 801h24v4h-24zM198 805h8v4h-8z"/>
<path fill="#30ff70" d="M218 749h4v4h-4zM218 753h4v4h-4z"/>
<path fill="#60ff70" d="M226 749h4v4h-4z"/>
<path fill="#9fff60" d="M242 749h4v4h-4zM238 753h8v4h-8z"/>
<path fill="#bfff50" d="M250 749h8v4h-8zM250 753h4v4h-4z"/>
<path fill="#dfff40" d="M262 749h4v4h-4zM262 753h4v4h-4z"/>
<path fill="#efff30" d="M270 749h4v4h-4zM270 753h4v4h-4z"/>
<path fill="#ffff20" d="M274 749h4v4h-4z"/>
<path fill="#70ff70" d="M226 753h4v4h-4zM226 757h4v4h-4z"/>
<path fill="#80ff70" d="M230 753h4v4h-4zM230 757h4v4h-4z"/>
<path fill="#8fff70" d="M234 753h4v4h-4zM234 757h4v4h-4zM234 761h4v4h-4z"/>
<path fill="#afff60" d="M246 753h4v4h-4zM242 757h8v4h-8z"/>
<path fill="#cfff50" d="M254 753h8v4h-8z"/>
<path fill="#efff40" d="M266 753h4v4h-4zM266 757h4v4h-4z"/>
<path fill="#ffff30" d="M274 753h4v4h-4zM274 757h4v4h-4z"/>
<path fill="#ffef20" d="M278 753h4v4h-4zM278 757h8v4h-8z"/>
<path fill="#ffdf00" d="M286 753h8v4h-8zM286 757h8v4h-8z"/>
<path fill="#40ff80" d="M218 757h4v4h-4zM218 761h4v4h-4z"/>
<path fill="#50ff80" d="M222 757h4v4h-4zM218 765h4v4h-4z"/>
<path fill="#9fff70" d="M238 757h4v4h-4zM238 761h4v4h-4zM238 765h4v4h-4z"/>
<path fill="#bfff60" d="M250 757h4v4h-4zM250 761h4v4h-4z"/>
<path fill="#cfff60" d="M254 757h4v4h-4zM254 761h4v4h-4zM254 765h4v4h-4z"/>
<path fill="#dfff50" d="M258 757h8v4h-8z"/>
<path fill="#ffff40" d="M270 757h4v4h-4zM270 761h4v4h-4z"/>
<path fill="#ffcf00" d="M294 757h4v4h-4zM290 761h12v4h-12zM294 765h4v4h-4z"/>
<path fill="#10ff80" d="M214 761h4v4h-4z"/>
<path fill="#60ff80" d="M222 761h4v4h-4zM222 765h4v4h-4z"/>
<path fill="#70ff80" d="M226 761h4v4h-4zM226 765h4v4h-4z"/>
<path fill="#80ff80" d="M230 761h4v4h-4zM230 765h4v4h-4zM226 769h4v4h-4z"/>
<path fill="#afff70" d="M242 761h4v4h-4zM242 765h4v4h-4z"/>
<path fill="#bfff70" d="M246 761h4v4h-4zM246 765h4v4h-4zM246 769h4v4h-4z"/>
<path fill="#dfff60" d="M258 761h4v4h-4zM258 765h4v4h-4zM258 769h4v4h-4z"/>
<path fill="#efff50" d="M262 761h8v4h-8z"/>
<path fill="#ffef40" d="M274 761h4v4h-4zM274 765h8v4h-8z"/>
<path fill="#ffef30" d="M278 761h4v4h-4z"/>
<path fill="#ffdf20" d="M282 761h4v4h-4zM286 765h4v4h-4z"/>
<path fill="#ffdf10" d="M286 761h4v4h-4z"/>
<path fill="#20ff8f" d="M214 765h4v4h-4z"/>
<path fill="#8fff80" d="M234 765h4v4h-4zM230 769h4v4h-4z"/>
<path fill="#cfff70" d="M250 765h4v4h-4zM250 769h4v4h-4zM250 773h4v4h-4z"/>
<path fill="#efff60" d="M262 765h4v4h-4zM262 769h4v4h-4z"/>
<path fill="#ffff50" d="M266 765h8v4h-8zM270 769h4v4h-4z"/>
<path fill="#ffdf30" d="M282 765h4v4h-4z"/>
<path fill="#ffcf10" d="M290 765h4v4h-4zM294 769h4v4h-4z"/>
<path fill="#ffbf00" d="M298 765h8v4h-8zM298 769h12v4h-12zM302 773h4v4h-4z"/>
<path fill="#00ffcf" d="M86 769h4v4h-4zM86 773h16v4h-16zM86 777h28v4h-28zM86 781h40v4h-40zM86 785h52v4h-52zM102 789h48v4h-48zM114 793h48v4h-48zM130 797h44v4h-44zM142 801h44v4h-44zM154 805h44v4h-44zM170 809h36v4h-36zM182 813h24v4h-24zM198 817h8v4h-8z"/>
<path fill="#30ff8f" d="M214 769h4v4h-4zM214 773h4v4h-4z"/>
<path fill="#50ff8f" d="M218 769h4v4h-4zM218 773h4v4h-4z"/>
<path fill="#60ff8f" d="M222 769h4v4h-4zM218 777h4v4h-4z"/>
<path fill="#9fff80" d="M234 769h4v4h-4zM234 773h4v4h-4z"/>
<path fill="#afff80" d="M238 769h8v4h-8zM238 773h4v4h-4zM238 777h4v4h-4z"/>
<path fill="#dfff70" d="M254 769h4v4h-4zM254 773h4v4h-4z"/>
<path fill="#ffff60" d="M266 769h4v4h-4zM266 773h4v4h-4z"/>
<path fill="#ffef50" d="M274 769h4v4h-4zM274 773h4v4h-4z"/>
<path fill="#ffdf40" d="M278 769h8v4h-8zM282 773h4v4h-4z"/>
<path fill="#ffcf30" d="M286 769h4v4h-4zM286 773h8v4h-8zM290 777h4v4h-4z"/>
<path fill="#ffcf20" d="M290 769h4v4h-4z"/>
<path fill="#70ff8f" d="M222 773h4v4h-4zM222 777h4v4h-4z"/>
<path fill="#80ff8f" d="M226 773h4v4h-4zM226 777h4v4h-4zM226 781h4v4h-4z"/>
<path fill="#8fff8f" d="M230 773h4v4h-4zM230 777h4v4h-4z"/>
<path fill="#bfff80" d="M242 773h8v4h-8zM242 777h4v4h-4z"/>
<path fill="#efff70" d="M258 773h8v4h-8zM258 777h4v4h-4z"/>
<path fill="#ffef60" d="M270 773h4v4h-4zM270 777h4v4h-4zM270 781h4v4h-4z"/>
<path fill="#ffdf50" d="M278 773h4v4h-4zM274 777h8v4h-8zM278 781h4v4h-4z"/>
<path fill="#ffbf20" d="M294 773h4v4h-4zM298 777h4v4h-4z"/>
<path fill="#ffbf10" d="M298 773h4v4h-4zM302 777h4v4h-4z"/>
<path fill="#ffaf00" d="M306 773h8v4h-8zM306 777h12v4h-12zM310 781h4v4h-4z"/>
<path fill="#40ff9f" d="M214 777h4v4h-4zM214 781h4v4h-4z"/>
<path fill="#9fff8f" d="M234 777h4v4h-4zM230 781h8v4h-8z"/>
<path fill="#cfff80" d="M246 777h4v4h-4zM246 781h4v4h-4z"/>
<path fill="#dfff80" d="M250 777h8v4h-8zM250 781h4v4h-4z"/>
<path fill="#ffff70" d="M262 777h8v4h-8zM262 781h4v4h-4z"/>
<path fill="#ffcf40" d="M282 777h8v4h-8zM286 781h4v4h-4z"/>
<path fill="#ffbf30" d="M294 777h4v4h-4zM294 781h8v4h-8z"/>
<path fill="#60ff9f" d="M218 781h4v4h-4zM218 785h4v4h-4z"/>
<path fill="#70ff9f" d="M222 781h4v4h-4zM218 789h4v4h-4z"/>
<path fill="#afff8f" d="M238 781h4v4h-4zM234 785h4v4h-4z"/>
<path fill="#bfff8f" d="M242 781h4v4h-4zM238 785h4v4h-4z"/>
<path fill="#efff80" d="M254 781h8v4h-8zM254 785h4v4h-4z"/>
<path fill="#ffef70" d="M266 781h4v4h-4zM266 785h4v4h-4zM266 789h4v4h-4z"/>
<path fill="#ffdf60" d="M274 781h4v4h-4zM274 785h4v4h-4zM274 789h4v4h-4z"/>
<path fill="#ffcf50" d="M282 781h4v4h-4zM282 785h8v4h-8zM282 789h4v4h-4z"/>
<path fill="#ffbf40" d="M290 781h4v4h-4zM290 785h8v4h-8zM294 789h4v4h-4z"/>
<path fill="#ffaf20" d="M302 781h4v4h-4zM306 785h4v4h-4z"/>
<path fill="#ffaf10" d="M306 781h4v4h-4zM310 785h4v4h-4z"/>
<path fill="#ff9f00" d="M314 781h8v4h-8zM314 785h12v4h-12zM318 789h8v4h-8z"/>
<path fill="#20ff9f" d="M210 785h4v4h-4z"/>
<path fill="#50ff9f" d="M214 785h4v4h-4z"/>
<path fill="#80ff9f" d="M222 785h4v4h-4zM222 789h4v4h-4z"/>
<path fill="#8fff9f" d="M226 785h4v4h-4zM226 789h4v4h-4zM226 793h4v4h-4z"/>
<path fill="#9fff9f" d="M230 785h4v4h-4zM230 789h4v4h-4zM230 793h4v4h-4z"/>
<path fill="#cfff8f" d="M242 785h8v4h-8zM242 789h4v4h-4z"/>
<path fill="#dfff8f" d="M250 785h4v4h-4zM246 789h8v4h-8z"/>
<path fill="#ffff80" d="M258 785h8v4h-8zM258 789h4v4h-4z"/>
<path fill="#ffdf70" d="M270 785h4v4h-4zM270 789h4v4h-4zM270 793h4v4h-4zM270 797h4v4h-4z"/>
<path fill="#ffcf60" d="M278 785h4v4h-4zM278 789h4v4h-4zM278 793h8v4h-8zM278 797h4v4h-4z"/>
<path fill="#ffaf30" d="M298 785h8v4h-8zM302 789h8v4h-8z"/>
<path fill="#00ffdf" d="M86 789h16v4h-16zM90 793h24v4h-24zM90 797h40v4h-40zM90 801h52v4h-52zM102 805h52v4h-52zM118 809h52v4h-52zM134 813h48v4h-48zM150 817h48v4h-48zM170 821h36v4h-36zM186 825h20v4h-20z"/>
<path fill="#30ffaf" d="M210 789h4v4h-4zM210 793h4v4h-4z"/>
<path fill="#50ffaf" d="M214 789h4v4h-4zM214 793h4v4h-4z"/>
<path fill="#afff9f" d="M234 789h4v4h-4zM234 793h4v4h-4z"/>
<path fill="#bfff9f" d="M238 789h4v4h-4zM238 793h4v4h-4zM234 797h4v4h-4z"/>
<path fill="#efff8f" d="M254 789h4v4h-4zM250 793h8v4h-8z"/>
<path fill="#ffef80" d="M262 789h4v4h-4zM262 793h4v4h-4zM262 797h4v4h-4z"/>
<path fill="#ffbf50" d="M286 789h8v4h-8zM286 793h8v4h-8zM290 797h4v4h-4z"/>
<path fill="#ffaf40" d="M298 789h4v4h-4zM294 793h12v4h-12zM298 797h8v4h-8z"/>
<path fill="#ff9f20" d="M310 789h4v4h-4zM314 793h4v4h-4z"/>
<path fill="#ff9f10" d="M314 789h4v4h-4zM318 793h4v4h-4z"/>
<path fill="#ff8f00" d="M326 789h4v4h-4zM322 793h12v4h-12zM326 797h12v4h-12zM330 801h4v4h-4z"/>
<path fill="#70ffaf" d="M218 793h4v4h-4zM218 797h4v4h-4z"/>
<path fill="#80ffaf" d="M222 793h4v4h-4zM218 801h4v4h-4z"/>
<path fill="#cfff9f" d="M242 793h4v4h-4zM238 797h8v4h-8z"/>
<path fill="#dfff9f" d="M246 793h4v4h-4zM246 797h4v4h-4zM242 801h4v4h-4z"/>
<path fill="#ffff8f" d="M258 793h4v4h-4zM254 797h4v4h-4z"/>
<path fill="#ffdf80" d="M266 793h4v4h-4zM266 797h4v4h-4zM266 801h4v4h-4zM266 805h4v4h-4z"/>
<path fill="#ffcf70" d="M274 793h4v4h-4zM274 797h4v4h-4zM274 801h4v4h-4zM274 805h4v4h-4z"/>
<path fill="#ff9f30" d="M306 793h8v4h-8zM306 797h12v4h-12zM310 801h8v4h-8z"/>
<path fill="#40ffaf" d="M210 797h4v4h-4z"/>
<path fill="#60ffaf" d="M214 797h4v4h-4z"/>
<path fill="#8fffaf" d="M222 797h4v4h-4zM222 801h4v4h-4z"/>
<path fill="#9fffaf" d="M226 797h4v4h-4zM226 801h4v4h-4zM226 805h4v4h-4z"/>
<path fill="#afffaf" d="M230 797h4v4h-4zM230 801h4v4h-4zM230 805h4v4h-4z"/>
<path fill="#efff9f" d="M250 797h4v4h-4zM246 801h8v4h-8z"/>
<path fill="#ffef8f" d="M258 797h4v4h-4zM258 801h4v4h-4zM258 805h4v4h-4z"/>
<path fill="#ffbf60" d="M282 797h8v4h-8zM282 801h8v4h-8zM282 805h4v4h-4z"/>
<path fill="#ffaf50" d="M294 797h4v4h-4zM290 801h12v4h-12zM294 805h4v4h-4zM294 809h4v4h-4z"/>
<path fill="#ff8f20" d="M318 797h4v4h-4zM322 801h4v4h-4zM322 805h8v4h-8z"/>
<path fill="#ff8f10" d="M322 797h4v4h-4zM326 801h4v4h-4z"/>
<path fill="#40ffbf" d="M210 801h4v4h-4z"/>
<path fill="#60ffbf" d="M214 801h4v4h-4zM214 805h4v4h-4z"/>
<path fill="#bfffaf" d="M234 801h4v4h-4zM234 805h4v4h-4z"/>
<path fill="#cfffaf" d="M238 801h4v4h-4zM238 805h4v4h-4zM238 809h4v4h-4z"/>
<path fill="#ffff9f" d="M254 801h4v4h-4zM250 805h8v4h-8z"/>
<path fill="#ffdf8f" d="M262 801h4v4h-4zM262 805h4v4h-4zM262 809h4v4h-4zM262 813h4v4h-4z"/>
<path fill="#ffcf80" d="M270 801h4v4h-4zM270 805h4v4h-4zM266 809h8v4h-8zM270 813h4v4h-4z"/>
<path fill="#ffbf70" d="M278 801h4v4h-4zM278 805h4v4h-4zM274 809h12v4h-12zM278 813h4v4h-4z"/>
<path fill="#ff9f40" d="M302 801h8v4h-8zM302 805h12v4h-12zM306 809h4v4h-4z"/>
<path fill="#ff8f30" d="M318 801h4v4h-4zM314 805h8v4h-8zM318 809h8v4h-8zM322 813h4v4h-4z"/>
<path fill="#ff8000" d="M334 801h8v4h-8zM334 805h12v4h-12zM338 809h12v4h-12zM342 813h4v4h-4z"/>
<path fill="#00ffef" d="M90 805h12v4h-12zM90 809h28v4h-28zM90 813h44v4h-44zM90 817h60v4h-60zM110 821h60v4h-60zM130 825h56v4h-56zM150 829h52v4h-52zM170 833h32v4h-32zM190 837h12v4h-12z"/>
<path fill="#10ffbf" d="M206 805h4v4h-4z"/>
<path fill="#50ffbf" d="M210 805h4v4h-4zM210 809h4v4h-4z"/>
<path fill="#80ffbf" d="M218 805h4v4h-4zM218 809h4v4h-4z"/>
<path fill="#8fffbf" d="M222 805h4v4h-4zM222 809h4v4h-4zM218 813h4v4h-4z"/>
<path fill="#dfffaf" d="M242 805h4v4h-4zM242 809h4v4h-4z"/>
<path fill="#efffaf" d="M246 805h4v4h-4zM246 809h4v4h-4z"/>
<path fill="#ffaf60" d="M286 805h8v4h-8zM286 809h8v4h-8zM286 813h8v4h-8z"/>
<path fill="#ff9f50" d="M298 805h4v4h-4zM298 809h8v4h-8zM298 813h8v4h-8zM302 817h4v4h-4z"/>
<path fill="#ff8010" d="M330 805h4v4h-4zM334 809h4v4h-4zM338 813h4v4h-4z"/>
<path fill="#20ffbf" d="M206 809h4v4h-4z"/>
<path fill="#70ffbf" d="M214 809h4v4h-4z"/>
<path fill="#afffbf" d="M226 809h4v4h-4zM226 813h4v4h-4z"/>
<path fill="#bfffbf" d="M230 809h4v4h-4zM230 813h4v4h-4zM230 817h4v4h-4z"/>
<path fill="#cfffbf" d="M234 809h4v4h-4zM234 813h4v4h-4zM234 817h4v4h-4z"/>
<path fill="#ffffaf" d="M250 809h4v4h-4zM246 813h8v4h-8z"/>
<path fill="#ffef9f" d="M254 809h8v4h-8zM254 813h4v4h-4zM254 817h4v4h-4z"/>
<path fill="#ff8f40" d="M310 809h8v4h-8zM310 813h12v4h-12zM314 817h8v4h-8zM314 821h4v4h-4z"/>
<path fill="#ff8020" d="M326 809h8v4h-8zM330 813h8v4h-8zM334 817h8v4h-8z"/>
<path fill="#30ffcf" d="M206 813h4v4h-4z"/>
<path fill="#50ffcf" d="M210 813h4v4h-4z"/>
<path fill="#70ffcf" d="M214 813h4v4h-4z"/>
<path fill="#9fffbf" d="M222 813h4v4h-4z"/>
<path fill="#dfffbf" d="M238 813h4v4h-4zM238 817h4v4h-4z"/>
<path fill="#efffbf" d="M242 813h4v4h-4zM242 817h4v4h-4zM242 821h4v4h-4z"/>
<path fill="#ffdf9f" d="M258 813h4v4h-4zM258 817h4v4h-4zM258 821h4v4h-4z"/>
<path fill="#ffcf8f" d="M266 813h4v4h-4zM262 817h8v4h-8zM262 821h8v4h-8z"/>
<path fill="#ffbf80" d="M274 813h4v4h-4zM270 817h8v4h-8zM270 821h8v4h-8z"/>
<path fill="#ffaf70" d="M282 813h4v4h-4zM278 817h12v4h-12zM282 821h8v4h-8zM282 825h4v4h-4z"/>
<path fill="#ff9f60" d="M294 813h4v4h-4zM290 817h12v4h-12zM290 821h12v4h-12zM294 825h4v4h-4z"/>
<path fill="#ff8f50" d="M306 813h4v4h-4zM306 817h8v4h-8zM302 821h12v4h-12zM306 825h8v4h-8z"/>
<path fill="#ff8030" d="M326 813h4v4h-4zM326 817h8v4h-8zM326 821h12v4h-12zM330 825h4v4h-4z"/>
<path fill="#ff7000" d="M346 813h8v4h-8zM346 817h12v4h-12zM350 821h12v4h-12z"/>
<path fill="#40ffcf" d="M206 817h4v4h-4z"/>
<path fill="#60ffcf" d="M210 817h4v4h-4zM210 821h4v4h-4z"/>
<path fill="#80ffcf" d="M214 817h4v4h-4zM214 821h4v4h-4z"/>
<path fill="#8fffcf" d="M218 817h4v4h-4zM218 821h4v4h-4z"/>
<path fill="#9fffcf" d="M222 817h4v4h-4zM222 821h4v4h-4z"/>
<path fill="#afffcf" d="M226 817h4v4h-4z"/>
<path fill="#ffffbf" d="M246 817h4v4h-4zM246 821h4v4h-4z"/>
<path fill="#ffefaf" d="M250 817h4v4h-4zM250 821h4v4h-4zM250 825h4v4h-4z"/>
<path fill="#ff8040" d="M322 817h4v4h-4zM318 821h8v4h-8zM318 825h12v4h-12zM322 829h8v4h-8zM322 833h4v4h-4z"/>
<path fill="#ff7010" d="M342 817h4v4h-4zM346 821h4v4h-4zM350 825h4v4h-4z"/>
<path fill="#00ffff" d="M94 821h16v4h-16zM94 825h36v4h-36zM94 829h56v4h-56zM98 833h72v4h-72zM126 837h64v4h-64zM154 841h48v4h-48zM178 845h24v4h-24z"/>
<path fill="#40ffdf" d="M206 821h4v4h-4z"/>
<path fill="#bfffcf" d="M226 821h4v4h-4zM226 825h4v4h-4z"/>
<path fill="#cfffcf" d="M230 821h4v4h-4zM230 825h4v4h-4z"/>
<path fill="#dfffcf" d="M234 821h4v4h-4zM234 825h4v4h-4z"/>
<path fill="#efffcf" d="M238 821h4v4h-4zM238 825h4v4h-4zM238 829h4v4h-4z"/>
<path fill="#ffdfaf" d="M254 821h4v4h-4zM254 825h4v4h-4zM254 829h4v4h-4z"/>
<path fill="#ffaf80" d="M278 821h4v4h-4zM274 825h8v4h-8zM274 829h8v4h-8z"/>
<path fill="#ff7020" d="M338 821h8v4h-8zM342 825h8v4h-8zM346 829h4v4h-4z"/>
<path fill="#50ffdf" d="M206 825h4v4h-4zM206 829h4v4h-4z"/>
<path fill="#70ffdf" d="M210 825h4v4h-4zM210 829h4v4h-4z"/>
<path fill="#80ffdf" d="M214 825h4v4h-4z"/>
<path fill="#9fffdf" d="M218 825h4v4h-4zM218 829h4v4h-4zM218 833h4v4h-4z"/>
<path fill="#afffdf" d="M222 825h4v4h-4zM222 829h4v4h-4z"/>
<path fill="#ffffcf" d="M242 825h4v4h-4zM242 829h4v4h-4z"/>
<path fill="#ffefbf" d="M246 825h4v4h-4zM246 829h4v4h-4zM246 833h4v4h-4z"/>
<path fill="#ffcf9f" d="M258 825h8v4h-8zM258 829h4v4h-4zM258 833h4v4h-4z"/>
<path fill="#ffbf8f" d="M266 825h8v4h-8zM266 829h8v4h-8zM266 833h4v4h-4z"/>
<path fill="#ff9f70" d="M286 825h8v4h-8zM286 829h8v4h-8zM286 833h8v4h-8z"/>
<path fill="#ff8f60" d="M298 825h8v4h-8zM294 829h16v4h-16zM298 833h8v4h-8z"/>
<path fill="#ff8050" d="M314 825h4v4h-4zM310 829h12v4h-12zM310 833h12v4h-12zM314 837h8v4h-8zM314 841h4v4h-4z"/>
<path fill="#ff7030" d="M334 825h8v4h-8zM334 829h12v4h-12zM338 833h8v4h-8z"/>
<path fill="#ff6000" d="M354 825h12v4h-12zM358 829h12v4h-12zM362 833h12v4h-12z"/>
<path fill="#20ffdf" d="M202 829h4v4h-4z"/>
<path fill="#8fffdf" d="M214 829h4v4h-4z"/>
<path fill="#bfffdf" d="M226 829h4v4h-4zM222 833h4v4h-4z"/>
<path fill="#cfffdf" d="M230 829h4v4h-4zM226 833h4v4h-4z"/>
<path fill="#dfffdf" d="M234 829h4v4h-4zM230 833h4v4h-4z"/>
<path fill="#ffdfbf" d="M250 829h4v4h-4zM250 833h4v4h-4zM250 837h4v4h-4z"/>
<path fill="#ffbf9f" d="M262 829h4v4h-4zM262 833h4v4h-4zM262 837h4v4h-4zM262 841h4v4h-4z"/>
<path fill="#ff9f80" d="M282 829h4v4h-4zM278 833h8v4h-8zM278 837h12v4h-12zM278 841h8v4h-8z"/>
<path fill="#ff7040" d="M330 829h4v4h-4zM326 833h12v4h-12zM326 837h16v4h-16zM330 841h8v4h-8z"/>
<path fill="#ff6020" d="M350 829h4v4h-4zM350 833h8v4h-8zM354 837h8v4h-8zM358 841h4v4h-4z"/>
<path fill="#ff6010" d="M354 829h4v4h-4zM358 833h4v4h-4zM362 837h4v4h-4z"/>
<path fill="#00efff" d="M94 833h4v4h-4zM94 837h32v4h-32zM94 841h60v4h-60zM98 845h80v4h-80zM114 849h84v4h-84zM154 853h44v4h-44zM194 857h4v4h-4z"/>
<path fill="#30ffef" d="M202 833h4v4h-4z"/>
<path fill="#60ffef" d="M206 833h4v4h-4zM206 837h4v4h-4z"/>
<path fill="#70ffef" d="M210 833h4v4h-4z"/>
<path fill="#8fffef" d="M214 833h4v4h-4zM214 837h4v4h-4z"/>
<path fill="#efffdf" d="M234 833h4v4h-4zM234 837h4v4h-4z"/>
<path fill="#ffffdf" d="M238 833h4v4h-4zM238 837h4v4h-4z"/>
<path fill="#ffefcf" d="M242 833h4v4h-4zM242 837h4v4h-4zM242 841h4v4h-4z"/>
<path fill="#ffcfaf" d="M254 833h4v4h-4zM254 837h4v4h-4zM254 841h4v4h-4z"/>
<path fill="#ffaf8f" d="M270 833h8v4h-8zM270 837h8v4h-8zM270 841h4v4h-4z"/>
<path fill="#ff8f70" d="M294 833h4v4h-4zM290 837h12v4h-12zM290 841h8v4h-8zM290 845h8v4h-8z"/>
<path fill="#ff8060" d="M306 833h4v4h-4zM302 837h12v4h-12zM302 841h12v4h-12zM306 845h8v4h-8zM306 849h4v4h-4z"/>
<path fill="#ff6030" d="M346 833h4v4h-4zM342 837h12v4h-12zM342 841h16v4h-16zM346 845h12v4h-12z"/>
<path fill="#40ffef" d="M202 837h4v4h-4z"/>
<path fill="#80ffef" d="M210 837h4v4h-4z"/>
<path fill="#afffef" d="M218 837h4v4h-4zM218 841h4v4h-4z"/>
<path fill="#bfffef" d="M222 837h4v4h-4zM222 841h4v4h-4z"/>
<path fill="#cfffef" d="M226 837h4v4h-4zM226 841h4v4h-4z"/>
<path fill="#dfffef" d="M230 837h4v4h-4z"/>
<path fill="#ffdfcf" d="M246 837h4v4h-4zM246 841h4v4h-4zM246 845h4v4h-4z"/>
<path fill="#ffbfaf" d="M258 837h4v4h-4zM258 841h4v4h-4zM254 845h8v4h-8z"/>
<path fill="#ffaf9f" d="M266 837h4v4h-4zM266 841h4v4h-4zM262 845h8v4h-8zM262 849h8v4h-8z"/>
<path fill="#ff7050" d="M322 837h4v4h-4zM318 841h12v4h-12zM318 845h16v4h-16zM322 849h8v4h-8zM322 853h4v4h-4z"/>
<path fill="#ff5000" d="M366 837h12v4h-12zM374 841h8v4h-8zM378 845h8v4h-8z"/>
<path fill="#40ffff" d="M202 841h4v4h-4z"/>
<path fill="#70ffff" d="M206 841h4v4h-4zM206 845h4v4h-4zM206 849h4v4h-4z"/>
<path fill="#80ffff" d="M210 841h4v4h-4z"/>
<path fill="#9fffef" d="M214 841h4v4h-4z"/>
<path fill="#efffef" d="M230 841h4v4h-4z"/>
<path fill="#ffffef" d="M234 841h4v4h-4zM234 845h4v4h-4z"/>
<path fill="#ffefdf" d="M238 841h4v4h-4zM238 845h4v4h-4z"/>
<path fill="#ffcfbf" d="M250 841h4v4h-4zM250 845h4v4h-4zM250 849h4v4h-4z"/>
<path fill="#ff9f8f" d="M274 841h4v4h-4zM270 845h12v4h-12zM274 849h4v4h-4zM274 853h4v4h-4z"/>
<path fill="#ff8f80" d="M286 841h4v4h-4zM282 845h8v4h-8zM282 849h12v4h-12zM282 853h8v4h-8z"/>
<path fill="#ff8070" d="M298 841h4v4h-4zM298 845h8v4h-8zM294 849h12v4h-12zM294 853h12v4h-12zM298 857h4v4h-4z"/>
<path fill="#ff6040" d="M338 841h4v4h-4zM334 845h12v4h-12zM334 849h16v4h-16zM338 853h8v4h-8z"/>
<path fill="#ff5020" d="M362 841h4v4h-4zM362 845h8v4h-8zM362 849h12v4h-12zM366 853h8v4h-8z"/>
<path fill="#ff5010" d="M366 841h8v4h-8zM370 845h8v4h-8zM374 849h4v4h-4z"/>
<path fill="#50ffff" d="M202 845h4v4h-4z"/>
<path fill="#8fffff" d="M210 845h4v4h-4zM210 849h4v4h-4z"/>
<path fill="#9fffff" d="M214 845h4v4h-4zM214 849h4v4h-4z"/>
<path fill="#afffff" d="M218 845h4v4h-4z"/>
<path fill="#cfffff" d="M222 845h4v4h-4zM222 849h4v4h-4z"/>
<path fill="#dfffff" d="M226 845h4v4h-4zM226 849h4v4h-4z"/>
<path fill="#efffff" d="M230 845h4v4h-4zM230 849h4v4h-4z"/>
<path fill="#ffdfdf" d="M242 845h4v4h-4zM242 849h4v4h-4z"/>
<path fill="#ff7060" d="M314 845h4v4h-4zM310 849h12v4h-12zM310 853h12v4h-12zM310 857h8v4h-8z"/>
<path fill="#ff5030" d="M358 845h4v4h-4zM350 849h12v4h-12zM354 853h12v4h-12zM358 857h8v4h-8z"/>
<path fill="#00dfff" d="M98 849h16v4h-16zM98 853h56v4h-56zM98 857h96v4h-96zM98 861h100v4h-100zM150 865h48v4h-48z"/>
<path fill="#10efff" d="M198 849h4v4h-4z"/>
<path fill="#50efff" d="M202 849h4v4h-4zM202 853h4v4h-4z"/>
<path fill="#bfffff" d="M218 849h4v4h-4z"/>
<path fill="#ffffff" d="M234 849h4v4h-4z"/>
<path fill="#ffefef" d="M238 849h4v4h-4z"/>
<path fill="#ffcfcf" d="M246 849h4v4h-4zM246 853h4v4h-4z"/>
<path fill="#ffbfbf" d="M254 849h4v4h-4zM250 853h8v4h-8zM250 857h4v4h-4z"/>
<path fill="#ffafaf" d="M258 849h4v4h-4zM258 853h8v4h-8zM258 857h4v4h-4zM258 861h4v4h-4z"/>
<path fill="#ff9f9f" d="M270 849h4v4h-4zM266 853h8v4h-8zM266 857h8v4h-8zM266 861h4v4h-4z"/>
<path fill="#ff8f8f" d="M278 849h4v4h-4zM278 853h4v4h-4zM274 857h12v4h-12zM278 861h4v4h-4z"/>
<path fill="#ff6050" d="M330 849h4v4h-4zM326 853h12v4h-12zM326 857h16v4h-16zM326 861h12v4h-12z"/>
<path fill="#ff4010" d="M378 849h4v4h-4zM378 853h8v4h-8zM382 857h8v4h-8z"/>
<path fill="#ff4000" d="M382 849h8v4h-8zM386 853h8v4h-8zM390 857h4v4h-4z"/>
<path fill="#20efff" d="M198 853h4v4h-4z"/>
<path fill="#70efff" d="M206 853h4v4h-4z"/>
<path fill="#8fefff" d="M210 853h4v4h-4zM210 857h4v4h-4z"/>
<path fill="#9fefff" d="M214 853h4v4h-4z"/>
<path fill="#bfefff" d="M218 853h4v4h-4zM218 857h4v4h-4z"/>
<path fill="#cfefff" d="M222 853h4v4h-4zM222 857h4v4h-4z"/>
<path fill="#dfefff" d="M226 853h4v4h-4zM226 857h4v4h-4z"/>
<path fill="#efefff" d="M230 853h4v4h-4zM230 857h4v4h-4z"/>
<path fill="#ffefff" d="M234 853h4v4h-4zM234 857h4v4h-4z"/>
<path fill="#ffdfef" d="M238 853h4v4h-4zM238 857h4v4h-4z"/>
<path fill="#ffcfdf" d="M242 853h4v4h-4zM242 857h4v4h-4zM242 861h4v4h-4z"/>
<path fill="#ff8080" d="M290 853h4v4h-4zM286 857h12v4h-12zM286 861h12v4h-12zM290 865h4v4h-4z"/>
<path fill="#ff7070" d="M306 853h4v4h-4zM302 857h8v4h-8zM298 861h16v4h-16zM302 865h8v4h-8zM302 869h4v4h-4z"/>
<path fill="#ff5040" d="M346 853h8v4h-8zM342 857h16v4h-16zM346 861h16v4h-16zM346 865h8v4h-8z"/>
<path fill="#ff4020" d="M374 853h4v4h-4zM370 857h12v4h-12zM374 861h12v4h-12zM378 865h4v4h-4z"/>
<path fill="#30efff" d="M198 857h4v4h-4z"/>
<path fill="#60efff" d="M202 857h4v4h-4z"/>
<path fill="#80efff" d="M206 857h4v4h-4z"/>
<path fill="#afefff" d="M214 857h4v4h-4z"/>
<path fill="#ffbfcf" d="M246 857h4v4h-4zM246 861h8v4h-8zM246 865h4v4h-4z"/>
<path fill="#ffafbf" d="M254 857h4v4h-4zM254 861h4v4h-4zM254 865h4v4h-4z"/>
<path fill="#ff9faf" d="M262 857h4v4h-4zM262 861h4v4h-4zM258 865h8v4h-8zM262 869h4v4h-4z"/>
<path fill="#ff6060" d="M318 857h8v4h-8zM314 861h12v4h-12zM314 865h16v4h-16zM318 869h8v4h-8zM318 873h4v4h-4z"/>
<path fill="#ff4030" d="M366 857h4v4h-4zM362 861h12v4h-12zM362 865h16v4h-16zM366 869h8v4h-8z"/>
<path fill="#ff3000" d="M394 857h4v4h-4zM394 861h8v4h-8zM398 865h8v4h-8z"/>
<path fill="#40dfff" d="M198 861h4v4h-4zM198 865h4v4h-4z"/>
<path fill="#60dfff" d="M202 861h4v4h-4zM202 865h4v4h-4z"/>
<path fill="#80dfff" d="M206 861h4v4h-4zM206 865h4v4h-4z"/>
<path fill="#8fdfff" d="M210 861h4v4h-4zM210 865h4v4h-4z"/>
<path fill="#afdfff" d="M214 861h4v4h-4zM214 865h4v4h-4z"/>
<path fill="#bfdfff" d="M218 861h4v4h-4zM218 865h4v4h-4z"/>
<path fill="#cfdfff" d="M222 861h4v4h-4zM222 865h4v4h-4z"/>
<path fill="#dfdfff" d="M226 861h4v4h-4zM226 865h4v4h-4zM226 869h4v4h-4z"/>
<path fill="#efdfff" d="M230 861h4v4h-4zM230 865h4v4h-4zM230 869h4v4h-4z"/>
<path fill="#ffdfff" d="M234 861h4v4h-4zM234 865h4v4h-4z"/>
<path fill="#ffcfef" d="M238 861h4v4h-4zM238 865h4v4h-4zM238 869h4v4h-4z"/>
<path fill="#ff8f9f" d="M270 861h8v4h-8zM266 865h12v4h-12zM270 869h4v4h-4zM270 873h4v4h-4z"/>
<path fill="#ff808f" d="M282 861h4v4h-4zM278 865h12v4h-12zM278 869h12v4h-12zM278 873h8v4h-8z"/>
<path fill="#ff5050" d="M338 861h8v4h-8zM330 865h16v4h-16zM334 869h16v4h-16zM334 873h8v4h-8z"/>
<path fill="#ff3010" d="M386 861h8v4h-8zM390 865h8v4h-8zM394 869h4v4h-4z"/>
<path fill="#00cfff" d="M102 865h48v4h-48zM102 869h96v4h-96zM102 873h92v4h-92zM102 877h92v4h-92z"/>
<path fill="#ffbfdf" d="M242 865h4v4h-4zM242 869h4v4h-4zM242 873h4v4h-4z"/>
<path fill="#ffafcf" d="M250 865h4v4h-4zM246 869h8v4h-8zM246 873h8v4h-8z"/>
<path fill="#ff7080" d="M294 865h8v4h-8zM290 869h12v4h-12zM290 873h12v4h-12zM294 877h4v4h-4z"/>
<path fill="#ff6070" d="M310 865h4v4h-4zM306 869h12v4h-12zM306 873h12v4h-12zM306 877h8v4h-8zM306 881h4v4h-4z"/>
<path fill="#ff4040" d="M354 865h8v4h-8zM350 869h16v4h-16zM354 873h12v4h-12zM354 877h8v4h-8z"/>
<path fill="#ff3020" d="M382 865h8v4h-8zM382 869h12v4h-12zM386 873h4v4h-4z"/>
<path fill="#50cfff" d="M198 869h4v4h-4zM198 873h4v4h-4zM198 877h4v4h-4z"/>
<path fill="#70cfff" d="M202 869h4v4h-4zM202 873h4v4h-4zM202 877h4v4h-4z"/>
<path fill="#80cfff" d="M206 869h4v4h-4zM206 873h4v4h-4zM206 877h4v4h-4z"/>
<path fill="#9fcfff" d="M210 869h4v4h-4zM210 873h4v4h-4zM210 877h4v4h-4z"/>
<path fill="#afcfff" d="M214 869h4v4h-4zM214 873h4v4h-4zM214 877h4v4h-4z"/>
<path fill="#bfcfff" d="M218 869h4v4h-4zM218 873h4v4h-4zM218 877h4v4h-4z"/>
<path fill="#cfcfff" d="M222 869h4v4h-4zM222 873h4v4h-4zM222 877h4v4h-4z"/>
<path fill="#ffcfff" d="M234 869h4v4h-4zM234 873h4v4h-4zM234 877h4v4h-4z"/>
<path fill="#ff9fbf" d="M254 869h8v4h-8zM254 873h8v4h-8zM254 877h4v4h-4z"/>
<path fill="#ff8faf" d="M266 869h4v4h-4zM262 873h8v4h-8zM262 877h8v4h-8zM262 881h4v4h-4z"/>
<path fill="#ff809f" d="M274 869h4v4h-4zM274 873h4v4h-4zM270 877h12v4h-12zM270 881h8v4h-8z"/>
<path fill="#ff5060" d="M326 869h8v4h-8zM322 873h12v4h-12zM322 877h16v4h-16zM322 881h8v4h-8z"/>
<path fill="#ff3030" d="M374 869h8v4h-8zM370 873h16v4h-16zM374 877h8v4h-8z"/>
<path fill="#ff2010" d="M398 869h4v4h-4zM398 873h8v4h-8z"/>
<path fill="#ff2000" d="M402 869h8v4h-8zM406 873h4v4h-4z"/>
<path fill="#20cfff" d="M194 873h4v4h-4z"/>
<path fill="#dfcfff" d="M226 873h4v4h-4zM226 877h4v4h-4z"/>
<path fill="#efcfff" d="M230 873h4v4h-4zM230 877h4v4h-4z"/>
<path fill="#ffbfef" d="M238 873h4v4h-4zM238 877h4v4h-4z"/>
<path fill="#ff708f" d="M286 873h4v4h-4zM282 877h12v4h-12zM282 881h12v4h-12zM282 885h8v4h-8z"/>
<path fill="#ff6080" d="M302 873h4v4h-4zM298 877h8v4h-8zM294 881h12v4h-12zM294 885h12v4h-12z"/>
<path fill="#ff4050" d="M342 873h12v4h-12zM338 877h16v4h-16zM342 881h12v4h-12zM342 885h4v4h-4z"/>
<path fill="#ff3040" d="M366 873h4v4h-4zM362 877h12v4h-12zM358 881h20v4h-20zM362 885h8v4h-8z"/>
<path fill="#ff2020" d="M390 873h8v4h-8zM390 877h12v4h-12z"/>
<path fill="#ff1000" d="M410 873h4v4h-4zM410 877h4v4h-4z"/>
<path fill="#30cfff" d="M194 877h4v4h-4z"/>
<path fill="#ffafdf" d="M242 877h8v4h-8zM242 881h4v4h-4z"/>
<path fill="#ff9fcf" d="M250 877h4v4h-4zM250 881h4v4h-4zM250 885h4v4h-4z"/>
<path fill="#ff8fbf" d="M258 877h4v4h-4zM254 881h8v4h-8zM254 885h8v4h-8z"/>
<path fill="#ff5070" d="M314 877h8v4h-8zM310 881h12v4h-12zM310 885h16v4h-16zM310 889h8v4h-8z"/>
<path fill="#ff2030" d="M382 877h8v4h-8zM378 881h16v4h-16zM382 885h4v4h-4z"/>
<path fill="#ff1010" d="M402 877h8v4h-8z"/>
<path fill="#ff0000" d="M414 877h4v4h-4zM414 881h4v4h-4z"/>
<path fill="#00bfff" d="M106 881h88v4h-88zM106 885h88v4h-88zM106 889h84v4h-84z"/>
<path fill="#30bfff" d="M194 881h4v4h-4z"/>
<path fill="#60bfff" d="M198 881h4v4h-4zM198 885h4v4h-4z"/>
<path fill="#70bfff" d="M202 881h4v4h-4zM202 885h4v4h-4z"/>
<path fill="#8fbfff" d="M206 881h4v4h-4zM206 885h4v4h-4z"/>
<path fill="#9fbfff" d="M210 881h4v4h-4zM210 885h4v4h-4z"/>
<path fill="#afbfff" d="M214 881h4v4h-4zM214 885h4v4h-4z"/>
<path fill="#bfbfff" d="M218 881h4v4h-4zM218 885h4v4h-4z"/>
<path fill="#cfbfff" d="M222 881h4v4h-4zM222 885h4v4h-4z"/>
<path fill="#dfbfff" d="M226 881h4v4h-4zM226 885h4v4h-4z"/>
<path fill="#efbfff" d="M230 881h4v4h-4zM230 885h4v4h-4z"/>
<path fill="#ffbfff" d="M234 881h4v4h-4zM234 885h4v4h-4z"/>
<path fill="#ffafef" d="M238 881h4v4h-4zM238 885h4v4h-4zM238 889h4v4h-4z"/>
<path fill="#ff9fdf" d="M246 881h4v4h-4zM242 885h8v4h-8zM242 889h8v4h-8z"/>
<path fill="#ff80af" d="M266 881h4v4h-4zM262 885h12v4h-12zM266 889h4v4h-4z"/>
<path fill="#ff709f" d="M278 881h4v4h-4zM274 885h8v4h-8zM274 889h8v4h-8zM274 893h4v4h-4z"/>
<path fill="#ff4060" d="M330 881h12v4h-12zM326 885h16v4h-16zM326 889h12v4h-12zM330 893h4v4h-4z"/>
<path fill="#ff3050" d="M354 881h4v4h-4zM346 885h16v4h-16zM346 889h16v4h-16zM346 893h8v4h-8z"/>
<path fill="#ff1020" d="M394 881h12v4h-12z"/>
<path fill="#ff0010" d="M406 881h8v4h-8zM410 885h4v4h-4z"/>
<path fill="#40bfff" d="M194 885h4v4h-4z"/>
<path fill="#ff608f" d="M290 885h4v4h-4zM286 889h12v4h-12zM286 893h8v4h-8zM286 897h4v4h-4z"/>
<path fill="#ff5080" d="M306 885h4v4h-4zM298 889h12v4h-12zM298 893h16v4h-16zM298 897h8v4h-8z"/>
<path fill="#ff2040" d="M370 885h12v4h-12zM366 889h12v4h-12zM366 893h4v4h-4z"/>
<path fill="#ff1030" d="M386 885h12v4h-12zM382 889h8v4h-8z"/>
<path fill="#ff0020" d="M398 885h12v4h-12zM402 889h4v4h-4z"/>
<path fill="#00afff" d="M190 889h4v4h-4zM106 893h84v4h-84zM110 897h80v4h-80zM110 901h72v4h-72zM110 905h28v4h-28z"/>
<path fill="#40afff" d="M194 889h4v4h-4zM194 893h4v4h-4z"/>
<path fill="#60afff" d="M198 889h4v4h-4zM198 893h4v4h-4z"/>
<path fill="#80afff" d="M202 889h4v4h-4zM202 893h4v4h-4zM202 897h4v4h-4z"/>
<path fill="#8fafff" d="M206 889h4v4h-4zM206 893h4v4h-4zM206 897h4v4h-4z"/>
<path fill="#9fafff" d="M210 889h4v4h-4zM210 893h4v4h-4zM210 897h4v4h-4z"/>
<path fill="#afafff" d="M214 889h4v4h-4zM214 893h4v4h-4zM214 897h4v4h-4z"/>
<path fill="#bfafff" d="M218 889h4v4h-4zM218 893h4v4h-4zM218 897h4v4h-4z"/>
<path fill="#cfafff" d="M222 889h4v4h-4zM222 893h4v4h-4z"/>
<path fill="#dfafff" d="M226 889h4v4h-4zM226 893h4v4h-4z"/>
<path fill="#efafff" d="M230 889h4v4h-4zM230 893h4v4h-4z"/>
<path fill="#ffafff" d="M234 889h4v4h-4zM234 893h4v4h-4z"/>
<path fill="#ff8fcf" d="M250 889h8v4h-8zM250 893h4v4h-4z"/>
<path fill="#ff80bf" d="M258 889h8v4h-8zM258 893h8v4h-8zM258 897h4v4h-4z"/>
<path fill="#ff70af" d="M270 889h4v4h-4zM266 893h8v4h-8zM266 897h8v4h-8zM266 901h4v4h-4z"/>
<path fill="#ff609f" d="M282 889h4v4h-4zM278 893h8v4h-8zM274 897h12v4h-12zM278 901h8v4h-8z"/>
<path fill="#ff4070" d="M318 889h8v4h-8zM314 893h16v4h-16zM314 897h12v4h-12z"/>
<path fill="#ff3060" d="M338 889h8v4h-8zM334 893h12v4h-12zM330 897h16v4h-16zM334 901h4v4h-4z"/>
<path fill="#ff2050" d="M362 889h4v4h-4zM354 893h12v4h-12zM350 897h12v4h-12z"/>
<path fill="#ff1040" d="M378 889h4v4h-4zM370 893h8v4h-8z"/>
<path fill="#ff0030" d="M390 889h12v4h-12zM386 893h8v4h-8z"/>
<path fill="#10afff" d="M190 893h4v4h-4z"/>
<path fill="#ff9fef" d="M238 893h8v4h-8zM238 897h4v4h-4z"/>
<path fill="#ff8fdf" d="M246 893h4v4h-4zM246 897h4v4h-4z"/>
<path fill="#ff80cf" d="M254 893h4v4h-4zM250 897h8v4h-8zM250 901h8v4h-8zM250 905h4v4h-4z"/>
<path fill="#ff508f" d="M294 893h4v4h-4zM290 897h8v4h-8zM290 901h12v4h-12zM290 905h4v4h-4z"/>
<path fill="#ff0040" d="M378 893h8v4h-8zM370 897h16v4h-16zM374 901h4v4h-4z"/>
<path fill="#20afff" d="M190 897h4v4h-4z"/>
<path fill="#50afff" d="M194 897h4v4h-4z"/>
<path fill="#70afff" d="M198 897h4v4h-4z"/>
<path fill="#cf9fff" d="M222 897h4v4h-4zM222 901h4v4h-4zM222 905h4v4h-4z"/>
<path fill="#df9fff" d="M226 897h4v4h-4zM226 901h4v4h-4zM226 905h4v4h-4z"/>
<path fill="#ef9fff" d="M230 897h4v4h-4zM230 901h4v4h-4zM230 905h4v4h-4z"/>
<path fill="#ff9fff" d="M234 897h4v4h-4zM234 901h4v4h-4z"/>
<path fill="#ff8fef" d="M242 897h4v4h-4zM238 901h8v4h-8zM238 905h8v4h-8zM238 909h4v4h-4z"/>
<path fill="#ff70bf" d="M262 897h4v4h-4zM258 901h8v4h-8zM258 905h8v4h-8zM258 909h4v4h-4z"/>
<path fill="#ff4080" d="M306 897h8v4h-8zM302 901h16v4h-16zM302 905h12v4h-12z"/>
<path fill="#ff3070" d="M326 897h4v4h-4zM318 901h16v4h-16zM318 905h12v4h-12z"/>
<path fill="#ff2060" d="M346 897h4v4h-4zM338 901h16v4h-16zM338 905h8v4h-8z"/>
<path fill="#ff1050" d="M362 897h8v4h-8zM354 901h8v4h-8z"/>
<path fill="#009fff" d="M182 901h8v4h-8zM138 905h52v4h-52zM110 909h80v4h-80zM114 913h64v4h-64zM114 917h36v4h-36zM114 921h8v4h-8z"/>
<path fill="#309fff" d="M190 901h4v4h-4zM190 905h4v4h-4z"/>
<path fill="#509fff" d="M194 901h4v4h-4zM194 905h4v4h-4z"/>
<path fill="#709fff" d="M198 901h4v4h-4zM198 905h4v4h-4zM198 909h4v4h-4z"/>
<path fill="#809fff" d="M202 901h4v4h-4zM202 905h4v4h-4zM202 909h4v4h-4z"/>
<path fill="#8f9fff" d="M206 901h4v4h-4zM206 905h4v4h-4z"/>
<path fill="#9f9fff" d="M210 901h4v4h-4zM210 905h4v4h-4z"/>
<path fill="#af9fff" d="M214 901h4v4h-4zM214 905h4v4h-4z"/>
<path fill="#bf9fff" d="M218 901h4v4h-4zM218 905h4v4h-4z"/>
<path fill="#ff80df" d="M246 901h4v4h-4zM246 905h4v4h-4zM246 909h4v4h-4z"/>
<path fill="#ff60af" d="M270 901h8v4h-8zM266 905h12v4h-12zM270 909h4v4h-4z"/>
<path fill="#ff509f" d="M286 901h4v4h-4zM278 905h12v4h-12zM278 909h12v4h-12zM278 913h4v4h-4z"/>
<path fill="#ff0050" d="M362 901h12v4h-12zM354 905h16v4h-16zM358 909h4v4h-4z"/>
<path fill="#ff8fff" d="M234 905h4v4h-4zM234 909h4v4h-4zM234 913h4v4h-4z"/>
<path fill="#ff70cf" d="M254 905h4v4h-4zM250 909h8v4h-8zM254 913h4v4h-4z"/>
<path fill="#ff408f" d="M294 905h8v4h-8zM290 909h16v4h-16zM290 913h8v4h-8z"/>
<path fill="#ff3080" d="M314 905h4v4h-4zM306 909h16v4h-16zM306 913h8v4h-8z"/>
<path fill="#ff2070" d="M330 905h8v4h-8zM322 909h12v4h-12zM322 913h4v4h-4z"/>
<path fill="#ff1060" d="M346 905h8v4h-8zM338 909h4v4h-4z"/>
<path fill="#409fff" d="M190 909h4v4h-4z"/>
<path fill="#609fff" d="M194 909h4v4h-4z"/>
<path fill="#8f8fff" d="M206 909h4v4h-4zM202 917h4v4h-4z"/>
<path fill="#9f8fff" d="M210 909h4v4h-4zM206 913h4v4h-4zM206 917h4v4h-4z"/>
<path fill="#af8fff" d="M214 909h4v4h-4zM210 913h8v4h-8zM210 917h4v4h-4z"/>
<path fill="#bf8fff" d="M218 909h4v4h-4zM218 913h4v4h-4zM214 917h4v4h-4z"/>
<path fill="#cf8fff" d="M222 909h4v4h-4zM222 913h4v4h-4z"/>
<path fill="#df8fff" d="M226 909h4v4h-4zM226 913h4v4h-4z"/>
<path fill="#ef8fff" d="M230 909h4v4h-4zM230 913h4v4h-4z"/>
<path fill="#ff80ef" d="M242 909h4v4h-4zM242 913h4v4h-4z"/>
<path fill="#ff60bf" d="M262 909h8v4h-8zM262 913h8v4h-8z"/>
<path fill="#ff50af" d="M274 909h4v4h-4zM270 913h8v4h-8zM270 917h8v4h-8z"/>
<path fill="#ff1070" d="M334 909h4v4h-4zM326 913h8v4h-8zM322 917h4v4h-4z"/>
<path fill="#ff0060" d="M342 909h16v4h-16zM342 913h12v4h-12z"/>
<path fill="#008fff" d="M178 913h12v4h-12zM150 917h36v4h-36zM122 921h64v4h-64zM118 925h60v4h-60zM118 929h36v4h-36zM118 933h16v4h-16z"/>
<path fill="#408fff" d="M190 913h4v4h-4zM190 917h4v4h-4z"/>
<path fill="#608fff" d="M194 913h4v4h-4zM194 917h4v4h-4zM194 921h4v4h-4z"/>
<path fill="#708fff" d="M198 913h4v4h-4zM198 917h4v4h-4z"/>
<path fill="#808fff" d="M202 913h4v4h-4z"/>
<path fill="#ff80ff" d="M238 913h4v4h-4zM234 917h8v4h-8zM234 921h4v4h-4z"/>
<path fill="#ff70df" d="M246 913h8v4h-8zM246 917h4v4h-4z"/>
<path fill="#ff60cf" d="M258 913h4v4h-4zM254 917h8v4h-8zM254 921h4v4h-4z"/>
<path fill="#ff409f" d="M282 913h8v4h-8zM282 917h8v4h-8zM282 921h4v4h-4z"/>
<path fill="#ff308f" d="M298 913h8v4h-8zM294 917h12v4h-12zM294 921h4v4h-4z"/>
<path fill="#ff2080" d="M314 913h8v4h-8zM306 917h12v4h-12z"/>
<path fill="#ff0070" d="M334 913h8v4h-8zM326 917h16v4h-16zM326 921h8v4h-8z"/>
<path fill="#208fff" d="M186 917h4v4h-4zM186 921h4v4h-4z"/>
<path fill="#bf80ff" d="M218 917h4v4h-4zM214 921h8v4h-8zM214 925h8v4h-8z"/>
<path fill="#cf80ff" d="M222 917h4v4h-4zM222 921h4v4h-4z"/>
<path fill="#df80ff" d="M226 917h4v4h-4zM226 921h4v4h-4z"/>
<path fill="#ef80ff" d="M230 917h4v4h-4zM230 921h4v4h-4z"/>
<path fill="#ff70ef" d="M242 917h4v4h-4zM242 921h4v4h-4z"/>
<path fill="#ff60df" d="M250 917h4v4h-4zM246 921h8v4h-8zM246 925h8v4h-8z"/>
<path fill="#ff50bf" d="M262 917h8v4h-8zM262 921h8v4h-8zM262 925h4v4h-4z"/>
<path fill="#ff40af" d="M278 917h4v4h-4zM270 921h12v4h-12zM270 925h8v4h-8z"/>
<path fill="#ff309f" d="M290 917h4v4h-4zM286 921h8v4h-8zM282 925h8v4h-8z"/>
<path fill="#ff1080" d="M318 917h4v4h-4zM310 921h8v4h-8z"/>
<path fill="#508fff" d="M190 921h4v4h-4z"/>
<path fill="#8080ff" d="M198 921h4v4h-4zM198 925h4v4h-4zM198 929h4v4h-4z"/>
<path fill="#8f80ff" d="M202 921h4v4h-4zM202 925h4v4h-4zM202 929h4v4h-4z"/>
<path fill="#9f80ff" d="M206 921h4v4h-4zM206 925h4v4h-4z"/>
<path fill="#af80ff" d="M210 921h4v4h-4zM210 925h4v4h-4z"/>
<path fill="#ff70ff" d="M238 921h4v4h-4zM234 925h8v4h-8zM234 929h4v4h-4z"/>
<path fill="#ff50cf" d="M258 921h4v4h-4zM254 925h8v4h-8zM254 929h4v4h-4z"/>
<path fill="#ff208f" d="M298 921h12v4h-12zM294 925h8v4h-8z"/>
<path fill="#ff0080" d="M318 921h8v4h-8zM310 925h16v4h-16zM310 929h8v4h-8z"/>
<path fill="#0080ff" d="M178 925h8v4h-8zM154 929h32v4h-32zM134 933h52v4h-52zM122 937h52v4h-52zM122 941h36v4h-36zM122 945h20v4h-20z"/>
<path fill="#3080ff" d="M186 925h4v4h-4zM186 929h4v4h-4z"/>
<path fill="#5080ff" d="M190 925h4v4h-4zM190 929h4v4h-4z"/>
<path fill="#6080ff" d="M194 925h4v4h-4z"/>
<path fill="#cf70ff" d="M222 925h4v4h-4zM222 929h4v4h-4zM222 933h4v4h-4z"/>
<path fill="#df70ff" d="M226 925h4v4h-4zM226 929h4v4h-4z"/>
<path fill="#ef70ff" d="M230 925h4v4h-4zM230 929h4v4h-4z"/>
<path fill="#ff60ef" d="M242 925h4v4h-4zM242 929h4v4h-4z"/>
<path fill="#ff40bf" d="M266 925h4v4h-4zM262 929h8v4h-8zM262 933h4v4h-4z"/>
<path fill="#ff30af" d="M278 925h4v4h-4zM274 929h8v4h-8z"/>
<path fill="#ff209f" d="M290 925h4v4h-4zM282 929h12v4h-12z"/>
<path fill="#ff108f" d="M302 925h8v4h-8z"/>
<path fill="#7080ff" d="M194 929h4v4h-4z"/>
<path fill="#9f70ff" d="M206 929h4v4h-4zM206 933h4v4h-4zM206 937h4v4h-4z"/>
<path fill="#af70ff" d="M210 929h4v4h-4zM210 933h4v4h-4z"/>
<path fill="#bf70ff" d="M214 929h8v4h-8zM214 933h8v4h-8z"/>
<path fill="#ff60ff" d="M238 929h4v4h-4zM234 933h8v4h-8zM234 937h4v4h-4z"/>
<path fill="#ff50df" d="M246 929h8v4h-8zM246 933h8v4h-8z"/>
<path fill="#ff40cf" d="M258 929h4v4h-4zM254 933h8v4h-8zM254 937h4v4h-4z"/>
<path fill="#ff30bf" d="M270 929h4v4h-4zM266 933h8v4h-8zM262 937h4v4h-4z"/>
<path fill="#ff109f" d="M294 929h4v4h-4zM286 933h4v4h-4z"/>
<path fill="#ff008f" d="M298 929h12v4h-12zM298 933h12v4h-12zM298 937h4v4h-4z"/>
<path fill="#4080ff" d="M186 933h4v4h-4z"/>
<path fill="#5070ff" d="M190 933h4v4h-4z"/>
<path fill="#7070ff" d="M194 933h4v4h-4zM194 937h4v4h-4zM194 941h4v4h-4z"/>
<path fill="#8070ff" d="M198 933h4v4h-4zM198 937h4v4h-4z"/>
<path fill="#8f70ff" d="M202 933h4v4h-4zM202 937h4v4h-4z"/>
<path fill="#df60ff" d="M226 933h4v4h-4zM226 937h4v4h-4z"/>
<path fill="#ef60ff" d="M230 933h4v4h-4zM230 937h4v4h-4z"/>
<path fill="#ff50ef" d="M242 933h4v4h-4zM242 937h4v4h-4z"/>
<path fill="#ff20af" d="M274 933h12v4h-12zM274 937h4v4h-4z"/>
<path fill="#ff009f" d="M290 933h8v4h-8zM286 937h12v4h-12zM286 941h4v4h-4z"/>
<path fill="#0070ff" d="M174 937h8v4h-8zM158 941h24v4h-24zM142 945h40v4h-40zM126 949h44v4h-44zM126 953h28v4h-28zM130 957h12v4h-12z"/>
<path fill="#1070ff" d="M182 937h4v4h-4z"/>
<path fill="#4070ff" d="M186 937h4v4h-4zM186 941h4v4h-4z"/>
<path fill="#6070ff" d="M190 937h4v4h-4zM190 941h4v4h-4z"/>
<path fill="#af60ff" d="M210 937h4v4h-4zM210 941h4v4h-4z"/>
<path fill="#bf60ff" d="M214 937h4v4h-4zM214 941h4v4h-4z"/>
<path fill="#cf60ff" d="M218 937h8v4h-8zM218 941h4v4h-4z"/>
<path fill="#ff50ff" d="M238 937h4v4h-4zM238 941h4v4h-4z"/>
<path fill="#ff40df" d="M246 937h8v4h-8z"/>
<path fill="#ff30cf" d="M258 937h4v4h-4zM254 941h8v4h-8z"/>
<path fill="#ff20bf" d="M266 937h8v4h-8zM266 941h4v4h-4z"/>
<path fill="#ff10af" d="M278 937h4v4h-4z"/>
<path fill="#ff00af" d="M282 937h4v4h-4zM274 941h12v4h-12zM274 945h8v4h-8z"/>
<path fill="#2070ff" d="M182 941h4v4h-4z"/>
<path fill="#8060ff" d="M198 941h4v4h-4zM198 945h4v4h-4z"/>
<path fill="#8f60ff" d="M202 941h4v4h-4zM202 945h4v4h-4z"/>
<path fill="#9f60ff" d="M206 941h4v4h-4zM206 945h4v4h-4z"/>
<path fill="#cf50ff" d="M222 941h4v4h-4zM218 945h8v4h-8zM218 949h4v4h-4z"/>
<path fill="#df50ff" d="M226 941h4v4h-4zM226 945h4v4h-4z"/>
<path fill="#ef50ff" d="M230 941h8v4h-8z"/>
<path fill="#ff40ef" d="M242 941h8v4h-8z"/>
<path fill="#ff30df" d="M250 941h4v4h-4zM250 945h4v4h-4z"/>
<path fill="#ff20cf" d="M262 941h4v4h-4z"/>
<path fill="#ff10bf" d="M270 941h4v4h-4z"/>
<path fill="#2060ff" d="M182 945h4v4h-4z"/>
<path fill="#5060ff" d="M186 945h4v4h-4zM186 949h4v4h-4z"/>
<path fill="#6060ff" d="M190 945h4v4h-4zM190 949h4v4h-4z"/>
<path fill="#7060ff" d="M194 945h4v4h-4zM194 949h4v4h-4z"/>
<path fill="#af50ff" d="M210 945h4v4h-4zM210 949h4v4h-4z"/>
<path fill="#bf50ff" d="M214 945h4v4h-4zM214 949h4v4h-4z"/>
<path fill="#ef40ff" d="M230 945h8v4h-8zM230 949h4v4h-4z"/>
<path fill="#ff40ff" d="M238 945h4v4h-4z"/>
<path fill="#ff30ef" d="M242 945h8v4h-8zM242 949h4v4h-4z"/>
<path fill="#ff20df" d="M254 945h4v4h-4z"/>
<path fill="#ff10cf" d="M258 945h8v4h-8z"/>
<path fill="#ff00bf" d="M266 945h8v4h-8zM266 949h8v4h-8z"/>
<path fill="#0060ff" d="M170 949h12v4h-12zM154 953h28v4h-28zM142 957h32v4h-32zM130 961h32v4h-32zM134 965h16v4h-16zM134 969h4v4h-4z"/>
<path fill="#3060ff" d="M182 949h4v4h-4zM182 953h4v4h-4z"/>
<path fill="#8050ff" d="M198 949h4v4h-4zM194 953h8v4h-8zM194 957h4v4h-4z"/>
<path fill="#8f50ff" d="M202 949h4v4h-4zM202 953h4v4h-4z"/>
<path fill="#9f50ff" d="M206 949h4v4h-4zM206 953h4v4h-4z"/>
<path fill="#cf40ff" d="M222 949h4v4h-4zM218 953h8v4h-8z"/>
<path fill="#df40ff" d="M226 949h4v4h-4z"/>
<path fill="#ef30ff" d="M234 949h4v4h-4zM230 953h8v4h-8z"/>
<path fill="#ff30ff" d="M238 949h4v4h-4z"/>
<path fill="#ff20ef" d="M246 949h4v4h-4z"/>
<path fill="#ff10df" d="M250 949h4v4h-4z"/>
<path fill="#ff00df" d="M254 949h4v4h-4zM250 953h8v4h-8zM250 957h8v4h-8z"/>
<path fill="#ff00cf" d="M258 949h8v4h-8zM258 953h8v4h-8z"/>
<path fill="#5050ff" d="M186 953h4v4h-4zM186 957h4v4h-4z"/>
<path fill="#6050ff" d="M190 953h4v4h-4zM186 961h4v4h-4z"/>
<path fill="#af40ff" d="M210 953h4v4h-4zM210 957h4v4h-4z"/>
<path fill="#bf40ff" d="M214 953h4v4h-4z"/>
<path fill="#df30ff" d="M226 953h4v4h-4z"/>
<path fill="#ff20ff" d="M238 953h4v4h-4z"/>
<path fill="#ff10ef" d="M242 953h4v4h-4z"/>
<path fill="#ff00ef" d="M246 953h4v4h-4zM242 957h8v4h-8zM242 961h8v4h-8z"/>
<path fill="#0050ff" d="M174 957h8v4h-8zM162 961h16v4h-16zM150 965h28v4h-28zM138 969h28v4h-28zM138 973h16v4h-16zM138 977h8v4h-8z"/>
<path fill="#4050ff" d="M182 957h4v4h-4zM182 961h4v4h-4z"/>
<path fill="#7050ff" d="M190 957h4v4h-4z"/>
<path fill="#8f40ff" d="M198 957h8v4h-8zM198 961h4v4h-4z"/>
<path fill="#9f40ff" d="M206 957h4v4h-4zM202 961h4v4h-4z"/>
<path fill="#bf30ff" d="M214 957h4v4h-4zM214 961h4v4h-4z"/>
<path fill="#cf30ff" d="M218 957h8v4h-8z"/>
<path fill="#df20ff" d="M226 957h4v4h-4z"/>
<path fill="#ef20ff" d="M230 957h4v4h-4z"/>
<path fill="#ef10ff" d="M234 957h4v4h-4z"/>
<path fill="#ff00ff" d="M238 957h4v4h-4zM238 961h4v4h-4z"/>
<path fill="#1050ff" d="M178 961h4v4h-4z"/>
<path fill="#7040ff" d="M190 961h4v4h-4zM190 965h4v4h-4z"/>
<path fill="#8040ff" d="M194 961h4v4h-4z"/>
<path fill="#9f30ff" d="M206 961h4v4h-4zM202 965h8v4h-8z"/>
<path fill="#af30ff" d="M210 961h4v4h-4z"/>
<path fill="#cf20ff" d="M218 961h8v4h-8z"/>
<path fill="#df10ff" d="M226 961h4v4h-4z"/>
<path fill="#ef00ff" d="M230 961h8v4h-8zM230 965h8v4h-8z"/>
<path fill="#2040ff" d="M178 965h4v4h-4z"/>
<path fill="#4040ff" d="M182 965h4v4h-4z"/>
<path fill="#6040ff" d="M186 965h4v4h-4z"/>
<path fill="#8030ff" d="M194 965h4v4h-4zM194 969h4v4h-4z"/>
<path fill="#8f30ff" d="M198 965h4v4h-4z"/>
<path fill="#af20ff" d="M210 965h4v4h-4z"/>
<path fill="#bf10ff" d="M214 965h4v4h-4z"/>
<path fill="#cf00ff" d="M218 965h8v4h-8zM218 969h8v4h-8zM218 973h4v4h-4z"/>
<path fill="#df00ff" d="M226 965h4v4h-4zM226 969h4v4h-4z"/>
<path fill="#0040ff" d="M166 969h12v4h-12zM154 973h20v4h-20zM146 977h20v4h-20zM142 981h12v4h-12z"/>
<path fill="#3040ff" d="M178 969h4v4h-4z"/>
<path fill="#5040ff" d="M182 969h4v4h-4z"/>
<path fill="#6030ff" d="M186 969h4v4h-4zM186 973h4v4h-4z"/>
<path fill="#7030ff" d="M190 969h4v4h-4z"/>
<path fill="#8f20ff" d="M198 969h4v4h-4z"/>
<path fill="#9f20ff" d="M202 969h4v4h-4z"/>
<path fill="#9f10ff" d="M206 969h4v4h-4z"/>
<path fill="#af00ff" d="M210 969h4v4h-4zM206 973h8v4h-8zM206 977h8v4h-8z"/>
<path fill="#bf00ff" d="M214 969h4v4h-4zM214 973h4v4h-4z"/>
<path fill="#0030ff" d="M174 973h4v4h-4zM166 977h12v4h-12zM154 981h16v4h-16zM146 985h16v4h-16z"/>
<path fill="#3030ff" d="M178 973h4v4h-4z"/>
<path fill="#5030ff" d="M182 973h4v4h-4z"/>
<path fill="#7020ff" d="M190 973h4v4h-4z"/>
<path fill="#8020ff" d="M194 973h4v4h-4z"/>
<path fill="#8f10ff" d="M198 973h4v4h-4z"/>
<path fill="#9f00ff" d="M202 973h4v4h-4zM202 977h4v4h-4zM202 981h4v4h-4z"/>
<path fill="#3020ff" d="M178 977h4v4h-4z"/>
<path fill="#5020ff" d="M182 977h4v4h-4z"/>
<path fill="#6020ff" d="M186 977h4v4h-4z"/>
<path fill="#7010ff" d="M190 977h4v4h-4z"/>
<path fill="#8000ff" d="M194 977h4v4h-4zM194 981h4v4h-4zM194 985h4v4h-4z"/>
<path fill="#8f00ff" d="M198 977h4v4h-4zM198 981h4v4h-4z"/>
<path fill="#0020ff" d="M170 981h4v4h-4zM162 985h8v4h-8zM150 989h12v4h-12z"/>
<path fill="#1020ff" d="M174 981h4v4h-4z"/>
<path fill="#4010ff" d="M178 981h4v4h-4z"/>
<path fill="#5000ff" d="M182 981h4v4h-4zM182 985h4v4h-4z"/>
<path fill="#6000ff" d="M186 981h4v4h-4zM186 985h4v4h-4zM182 989h4v4h-4z"/>
<path fill="#7000ff" d="M190 981h4v4h-4zM190 985h4v4h-4z"/>
<path fill="#0010ff" d="M170 985h4v4h-4zM162 989h4v4h-4zM154 993h4v4h-4z"/>
<path fill="#2000ff" d="M174 985h4v4h-4zM174 989h4v4h-4z"/>
<path fill="#4000ff" d="M178 985h4v4h-4zM178 989h4v4h-4z"/>
<path fill="#0000ff" d="M166 989h8v4h-8zM158 993h16v4h-16zM158 997h12v4h-12z"/>
<path fill="#3000ff" d="M174 993h4v4h-4z"/>
</g></g>
<line x1="87.00" y1="602.30" x2="87.00" y2="998.20" stroke="#5a5a5a" stroke-width="1.60"/>
<line x1="86.20" y1="997.40" x2="440.60" y2="997.40" stroke="#5a5a5a" stroke-width="1.60"/>
<text x="81.80" y="1001.00" font-size="12.60" fill="#5c5c5c" font-weight="bold" text-anchor="end" textLength="18.60" lengthAdjust="spacingAndGlyphs">0.0</text>
<text x="81.80" y="957.10" font-size="12.60" fill="#5c5c5c" font-weight="bold" text-anchor="end" textLength="18.60" lengthAdjust="spacingAndGlyphs">0.1</text>
<text x="81.80" y="913.20" font-size="12.60" fill="#5c5c5c" font-weight="bold" text-anchor="end" textLength="18.60" lengthAdjust="spacingAndGlyphs">0.2</text>
<text x="81.80" y="869.30" font-size="12.60" fill="#5c5c5c" font-weight="bold" text-anchor="end" textLength="18.60" lengthAdjust="spacingAndGlyphs">0.3</text>
<text x="81.80" y="825.40" font-size="12.60" fill="#5c5c5c" font-weight="bold" text-anchor="end" textLength="18.60" lengthAdjust="spacingAndGlyphs">0.4</text>
<text x="81.80" y="781.50" font-size="12.60" fill="#5c5c5c" font-weight="bold" text-anchor="end" textLength="18.60" lengthAdjust="spacingAndGlyphs">0.5</text>
<text x="81.80" y="737.60" font-size="12.60" fill="#5c5c5c" font-weight="bold" text-anchor="end" textLength="18.60" lengthAdjust="spacingAndGlyphs">0.6</text>
<text x="81.80" y="693.70" font-size="12.60" fill="#5c5c5c" font-weight="bold" text-anchor="end" textLength="18.60" lengthAdjust="spacingAndGlyphs">0.7</text>
<text x="81.80" y="649.80" font-size="12.60" fill="#5c5c5c" font-weight="bold" text-anchor="end" textLength="18.60" lengthAdjust="spacingAndGlyphs">0.8</text>
<text x="81.80" y="605.90" font-size="12.60" fill="#5c5c5c" font-weight="bold" text-anchor="end" textLength="18.60" lengthAdjust="spacingAndGlyphs">0.9</text>
<text x="87.00" y="1013.80" font-size="12.60" fill="#5c5c5c" font-weight="bold" text-anchor="middle" textLength="18.60" lengthAdjust="spacingAndGlyphs">0.0</text>
<text x="131.20" y="1013.80" font-size="12.60" fill="#5c5c5c" font-weight="bold" text-anchor="middle" textLength="18.60" lengthAdjust="spacingAndGlyphs">0.1</text>
<text x="175.40" y="1013.80" font-size="12.60" fill="#5c5c5c" font-weight="bold" text-anchor="middle" textLength="18.60" lengthAdjust="spacingAndGlyphs">0.2</text>
<text x="219.60" y="1013.80" font-size="12.60" fill="#5c5c5c" font-weight="bold" text-anchor="middle" textLength="18.60" lengthAdjust="spacingAndGlyphs">0.3</text>
<text x="263.80" y="1013.80" font-size="12.60" fill="#5c5c5c" font-weight="bold" text-anchor="middle" textLength="18.60" lengthAdjust="spacingAndGlyphs">0.4</text>
<text x="308.00" y="1013.80" font-size="12.60" fill="#5c5c5c" font-weight="bold" text-anchor="middle" textLength="18.60" lengthAdjust="spacingAndGlyphs">0.5</text>
<text x="352.20" y="1013.80" font-size="12.60" fill="#5c5c5c" font-weight="bold" text-anchor="middle" textLength="18.60" lengthAdjust="spacingAndGlyphs">0.6</text>
<text x="396.40" y="1013.80" font-size="12.60" fill="#5c5c5c" font-weight="bold" text-anchor="middle" textLength="18.60" lengthAdjust="spacingAndGlyphs">0.7</text>
<text x="68.50" y="626.00" font-size="12.50" fill="#333" font-weight="bold">y</text>
<text x="415.50" y="1013.80" font-size="12.50" fill="#333" font-weight="bold">x</text>
<polyline points="200.3,884.3 201.8,882.4 203.3,880.4 204.9,878.4 206.5,876.3 208.2,874.2 210.0,872.0 211.9,869.9 213.8,867.7 215.8,865.4 217.8,863.2 219.9,861.0 222.0,858.8 224.2,856.6 226.4,854.5 228.7,852.4 230.9,850.3 233.2,848.3 235.6,846.3 237.9,844.3 240.3,842.4 242.7,840.6 245.0,838.8 247.4,837.1 249.8,835.5 252.2,833.9 254.6,832.4 257.0,830.9 259.4,829.5 261.8,828.1 264.1,826.9 266.4,825.7 268.7,824.6 270.9,823.6 273.1,822.6 275.3,821.7 277.5,820.8 279.7,820.1 281.8,819.4 283.9,818.7 285.9,818.1 288.0,817.6 290.0,817.1 292.0,816.7 294.0,816.3 295.9,816.0 297.8,815.8 299.7,815.5 301.5,815.4 303.4,815.2 305.1,815.1 306.9,815.1 308.6,815.1 310.3,815.1 312.0,815.2 313.6,815.3 315.3,815.4 316.8,815.6 318.4,815.8 319.9,816.0" fill="none" stroke="#6e6e6e" stroke-width="1.3" stroke-linejoin="round"/>
<line x1="196.50" y1="841.80" x2="227.20" y2="900.70" stroke="#6e6e6e" stroke-width="1.10"/>
<text x="226.00" y="908.30" font-size="7.20" fill="#3a3a3a" textLength="19.75" lengthAdjust="spacingAndGlyphs">10000</text>
<line x1="207.90" y1="832.20" x2="227.80" y2="894.70" stroke="#6e6e6e" stroke-width="1.10"/>
<text x="229.80" y="899.60" font-size="7.20" fill="#3a3a3a" textLength="15.80" lengthAdjust="spacingAndGlyphs">8000</text>
<line x1="221.40" y1="822.80" x2="231.80" y2="888.70" stroke="#6e6e6e" stroke-width="1.10"/>
<text x="233.20" y="890.30" font-size="7.20" fill="#3a3a3a" textLength="15.80" lengthAdjust="spacingAndGlyphs">6500</text>
<line x1="243.40" y1="809.90" x2="236.80" y2="877.30" stroke="#6e6e6e" stroke-width="1.10"/>
<text x="239.20" y="880.50" font-size="7.20" fill="#3a3a3a" textLength="15.80" lengthAdjust="spacingAndGlyphs">5000</text>
<line x1="264.80" y1="799.30" x2="247.80" y2="864.70" stroke="#6e6e6e" stroke-width="1.10"/>
<text x="247.80" y="869.90" font-size="7.20" fill="#3a3a3a" textLength="15.80" lengthAdjust="spacingAndGlyphs">4000</text>
<line x1="295.70" y1="789.90" x2="266.70" y2="849.80" stroke="#6e6e6e" stroke-width="1.10"/>
<text x="262.00" y="859.20" font-size="7.20" fill="#3a3a3a" textLength="15.80" lengthAdjust="spacingAndGlyphs">3000</text>
<line x1="314.60" y1="787.90" x2="281.70" y2="844.80" stroke="#6e6e6e" stroke-width="1.10"/>
<text x="280.70" y="852.40" font-size="7.20" fill="#3a3a3a" textLength="15.80" lengthAdjust="spacingAndGlyphs">2500</text>
<line x1="329.60" y1="802.90" x2="300.70" y2="842.80" stroke="#6e6e6e" stroke-width="1.10"/>
<text x="301.30" y="851.60" font-size="7.20" fill="#3a3a3a" textLength="15.80" lengthAdjust="spacingAndGlyphs">2000</text>
<line x1="187.3" y1="773" x2="194.2" y2="830" stroke="#111" stroke-width="1.2"/>
<polygon points="195,837 191.3,827.5 197.3,826.8" fill="#111"/>
<line x1="156" y1="924.6" x2="189.5" y2="896" stroke="#111" stroke-width="1.2"/>
<polygon points="195,891.5 191.8,900.2 186.5,894.2" fill="#111"/>
<text x="148.00" y="755.60" font-size="9.30" fill="#2a2a2a" textLength="79.30" lengthAdjust="spacingAndGlyphs">Lines of Correlated</text>
<text x="148.00" y="766.60" font-size="9.30" fill="#2a2a2a" textLength="76.60" lengthAdjust="spacingAndGlyphs">Color Temperature</text>
<text x="150.00" y="934.60" font-size="9.30" fill="#2a2a2a" textLength="65.80" lengthAdjust="spacingAndGlyphs">The Black Body</text>
<text x="149.60" y="945.60" font-size="9.30" fill="#2a2a2a" textLength="106.20" lengthAdjust="spacingAndGlyphs">(Plankian) Radiator Curve</text>
<circle cx="164.0" cy="995.2" r="2.1" fill="#fff" stroke="#999" stroke-width="0.6"/>
<text x="167.15" y="997.60" font-size="6.40" fill="#555" textLength="10.20" lengthAdjust="spacingAndGlyphs">380</text>
<circle cx="150.6" cy="984.4" r="2.1" fill="#fff" stroke="#999" stroke-width="0.6"/>
<text x="153.85" y="986.76" font-size="6.40" fill="#555" textLength="10.20" lengthAdjust="spacingAndGlyphs">460</text>
<circle cx="141.9" cy="972.0" r="2.1" fill="#fff" stroke="#999" stroke-width="0.6"/>
<text x="145.05" y="974.43" font-size="6.40" fill="#555" textLength="10.20" lengthAdjust="spacingAndGlyphs">470</text>
<circle cx="135.4" cy="959.3" r="2.1" fill="#fff" stroke="#999" stroke-width="0.6"/>
<text x="138.64" y="961.69" font-size="6.40" fill="#555" textLength="10.20" lengthAdjust="spacingAndGlyphs">475</text>
<circle cx="127.4" cy="939.1" r="2.1" fill="#fff" stroke="#999" stroke-width="0.6"/>
<text x="130.55" y="941.54" font-size="6.40" fill="#555" textLength="10.20" lengthAdjust="spacingAndGlyphs">480</text>
<circle cx="117.4" cy="909.3" r="2.1" fill="#fff" stroke="#999" stroke-width="0.6"/>
<text x="120.57" y="911.69" font-size="6.40" fill="#555" textLength="10.20" lengthAdjust="spacingAndGlyphs">485</text>
<circle cx="107.1" cy="867.9" r="2.1" fill="#fff" stroke="#999" stroke-width="0.6"/>
<text x="110.27" y="870.29" font-size="6.40" fill="#555" textLength="10.20" lengthAdjust="spacingAndGlyphs">490</text>
<circle cx="97.4" cy="816.2" r="2.1" fill="#fff" stroke="#999" stroke-width="0.6"/>
<text x="100.59" y="818.62" font-size="6.40" fill="#555" textLength="10.20" lengthAdjust="spacingAndGlyphs">495</text>
<circle cx="90.6" cy="761.0" r="2.1" fill="#fff" stroke="#999" stroke-width="0.6"/>
<text x="93.82" y="763.44" font-size="6.40" fill="#555" textLength="10.20" lengthAdjust="spacingAndGlyphs">500</text>
<circle cx="88.7" cy="709.9" r="2.1" fill="#fff" stroke="#999" stroke-width="0.6"/>
<text x="91.92" y="712.34" font-size="6.40" fill="#555" textLength="10.20" lengthAdjust="spacingAndGlyphs">505</text>
<circle cx="93.1" cy="668.1" r="2.1" fill="#fff" stroke="#999" stroke-width="0.6"/>
<text x="96.34" y="670.46" font-size="6.40" fill="#555" textLength="10.20" lengthAdjust="spacingAndGlyphs">510</text>
<circle cx="104.2" cy="640.9" r="2.1" fill="#fff" stroke="#999" stroke-width="0.6"/>
<text x="107.39" y="643.33" font-size="6.40" fill="#555" textLength="10.20" lengthAdjust="spacingAndGlyphs">515</text>
<circle cx="119.8" cy="631.4" r="2.1" fill="#fff" stroke="#999" stroke-width="0.6"/>
<text x="123.04" y="633.76" font-size="6.40" fill="#555" textLength="10.20" lengthAdjust="spacingAndGlyphs">520</text>
<circle cx="137.5" cy="634.7" r="2.1" fill="#fff" stroke="#999" stroke-width="0.6"/>
<text x="140.68" y="637.10" font-size="6.40" fill="#555" textLength="10.20" lengthAdjust="spacingAndGlyphs">525</text>
<circle cx="155.4" cy="643.6" r="2.1" fill="#fff" stroke="#999" stroke-width="0.6"/>
<text x="158.58" y="646.01" font-size="6.40" fill="#555" textLength="10.20" lengthAdjust="spacingAndGlyphs">530</text>
<circle cx="172.3" cy="654.3" r="2.1" fill="#fff" stroke="#999" stroke-width="0.6"/>
<text x="175.46" y="656.68" font-size="6.40" fill="#555" textLength="10.20" lengthAdjust="spacingAndGlyphs">535</text>
<circle cx="188.5" cy="666.3" r="2.1" fill="#fff" stroke="#999" stroke-width="0.6"/>
<text x="191.68" y="668.66" font-size="6.40" fill="#555" textLength="10.20" lengthAdjust="spacingAndGlyphs">540</text>
<circle cx="204.5" cy="679.4" r="2.1" fill="#fff" stroke="#999" stroke-width="0.6"/>
<text x="207.68" y="681.83" font-size="6.40" fill="#555" textLength="10.20" lengthAdjust="spacingAndGlyphs">545</text>
<circle cx="220.3" cy="693.5" r="2.1" fill="#fff" stroke="#999" stroke-width="0.6"/>
<text x="223.51" y="695.88" font-size="6.40" fill="#555" textLength="10.20" lengthAdjust="spacingAndGlyphs">550</text>
<circle cx="236.1" cy="708.1" r="2.1" fill="#fff" stroke="#999" stroke-width="0.6"/>
<text x="239.29" y="710.54" font-size="6.40" fill="#555" textLength="10.20" lengthAdjust="spacingAndGlyphs">555</text>
<circle cx="251.9" cy="723.2" r="2.1" fill="#fff" stroke="#999" stroke-width="0.6"/>
<text x="255.11" y="725.64" font-size="6.40" fill="#555" textLength="10.20" lengthAdjust="spacingAndGlyphs">560</text>
<circle cx="267.6" cy="738.6" r="2.1" fill="#fff" stroke="#999" stroke-width="0.6"/>
<text x="270.85" y="740.97" font-size="6.40" fill="#555" textLength="10.20" lengthAdjust="spacingAndGlyphs">565</text>
<circle cx="283.3" cy="753.9" r="2.1" fill="#fff" stroke="#999" stroke-width="0.6"/>
<text x="286.49" y="756.29" font-size="6.40" fill="#555" textLength="10.20" lengthAdjust="spacingAndGlyphs">570</text>
<circle cx="298.6" cy="769.0" r="2.1" fill="#fff" stroke="#999" stroke-width="0.6"/>
<text x="301.83" y="771.43" font-size="6.40" fill="#555" textLength="10.20" lengthAdjust="spacingAndGlyphs">575</text>
<circle cx="313.5" cy="783.8" r="2.1" fill="#fff" stroke="#999" stroke-width="0.6"/>
<text x="316.72" y="786.18" font-size="6.40" fill="#555" textLength="10.20" lengthAdjust="spacingAndGlyphs">580</text>
<circle cx="327.8" cy="797.9" r="2.1" fill="#fff" stroke="#999" stroke-width="0.6"/>
<text x="331.00" y="800.32" font-size="6.40" fill="#555" textLength="10.20" lengthAdjust="spacingAndGlyphs">585</text>
<circle cx="341.2" cy="811.2" r="2.1" fill="#fff" stroke="#999" stroke-width="0.6"/>
<text x="344.44" y="813.58" font-size="6.40" fill="#555" textLength="10.20" lengthAdjust="spacingAndGlyphs">590</text>
<circle cx="353.5" cy="823.3" r="2.1" fill="#fff" stroke="#999" stroke-width="0.6"/>
<text x="356.68" y="825.74" font-size="6.40" fill="#555" textLength="10.20" lengthAdjust="spacingAndGlyphs">595</text>
<circle cx="364.1" cy="833.9" r="2.1" fill="#fff" stroke="#999" stroke-width="0.6"/>
<text x="367.33" y="836.27" font-size="6.40" fill="#555" textLength="10.20" lengthAdjust="spacingAndGlyphs">600</text>
<circle cx="373.5" cy="843.1" r="2.1" fill="#fff" stroke="#999" stroke-width="0.6"/>
<text x="376.70" y="845.54" font-size="6.40" fill="#555" textLength="10.20" lengthAdjust="spacingAndGlyphs">605</text>
<circle cx="381.3" cy="850.8" r="2.1" fill="#fff" stroke="#999" stroke-width="0.6"/>
<text x="384.48" y="853.17" font-size="6.40" fill="#555" textLength="10.20" lengthAdjust="spacingAndGlyphs">610</text>
<circle cx="392.6" cy="862.1" r="2.1" fill="#fff" stroke="#999" stroke-width="0.6"/>
<text x="395.84" y="864.46" font-size="6.40" fill="#555" textLength="10.20" lengthAdjust="spacingAndGlyphs">620</text>
<circle cx="402.6" cy="871.9" r="2.1" fill="#fff" stroke="#999" stroke-width="0.6"/>
<text x="405.79" y="874.29" font-size="6.40" fill="#555" textLength="10.20" lengthAdjust="spacingAndGlyphs">635</text>
<circle cx="411.7" cy="880.9" r="2.1" fill="#fff" stroke="#999" stroke-width="0.6"/>
<text x="414.94" y="883.33" font-size="6.40" fill="#555" textLength="10.20" lengthAdjust="spacingAndGlyphs">700</text>
<path d="M512.56 601.30V996.40M517.42 601.30V996.40M522.28 601.30V996.40M527.14 601.30V996.40M532.00 601.30V996.40M536.86 601.30V996.40M541.72 601.30V996.40M546.58 601.30V996.40M551.44 601.30V996.40M561.16 601.30V996.40M566.02 601.30V996.40M570.88 601.30V996.40M575.74 601.30V996.40M580.60 601.30V996.40M585.46 601.30V996.40M590.32 601.30V996.40M595.18 601.30V996.40M600.04 601.30V996.40M609.76 601.30V996.40M614.62 601.30V996.40M619.48 601.30V996.40M624.34 601.30V996.40M629.20 601.30V996.40M634.06 601.30V996.40M638.92 601.30V996.40M643.78 601.30V996.40M648.64 601.30V996.40M658.36 601.30V996.40M663.22 601.30V996.40M668.08 601.30V996.40M672.94 601.30V996.40M677.80 601.30V996.40M682.66 601.30V996.40M687.52 601.30V996.40M692.38 601.30V996.40M697.24 601.30V996.40M706.96 601.30V996.40M711.82 601.30V996.40M716.68 601.30V996.40M721.54 601.30V996.40M726.40 601.30V996.40M731.26 601.30V996.40M736.12 601.30V996.40M740.98 601.30V996.40M745.84 601.30V996.40M755.56 601.30V996.40M760.42 601.30V996.40M765.28 601.30V996.40M770.14 601.30V996.40M775.00 601.30V996.40M779.86 601.30V996.40M784.72 601.30V996.40M789.58 601.30V996.40M794.44 601.30V996.40M804.16 601.30V996.40M809.02 601.30V996.40M813.88 601.30V996.40M818.74 601.30V996.40M823.60 601.30V996.40M828.46 601.30V996.40M833.32 601.30V996.40M838.18 601.30V996.40M843.04 601.30V996.40M852.76 601.30V996.40M857.62 601.30V996.40M862.48 601.30V996.40M867.34 601.30V996.40M872.20 601.30V996.40M877.06 601.30V996.40M881.92 601.30V996.40M886.78 601.30V996.40M891.64 601.30V996.40" stroke="#c9c9c9" stroke-width="1.00" fill="none"/>
<path d="M507.70 614.90H896.50M507.70 624.10H896.50M507.70 627.70H896.50M507.70 637.20H896.50M507.70 649.60H896.50M507.70 658.90H896.50M507.70 693.60H896.50M507.70 716.30H896.50M507.70 729.10H896.50M507.70 738.30H896.50M507.70 741.10H896.50M507.70 750.40H896.50M507.70 763.80H896.50M507.70 773.00H896.50M507.70 785.80H896.50M507.70 798.50H896.50M507.70 808.40H896.50M507.70 829.60H896.50M507.70 843.00H896.50M507.70 854.60H896.50M507.70 868.40H896.50M507.70 882.20H896.50M507.70 889.50H896.50M507.70 899.40H896.50M507.70 913.90H896.50M507.70 925.10H896.50M507.70 934.90H896.50M507.70 944.00H896.50M507.70 954.20H896.50M507.70 963.70H896.50M507.70 978.90H896.50M507.70 988.40H896.50" stroke="#cdcdcd" stroke-width="1.00" fill="none"/>
<path d="M556.30 601.30V996.40M604.90 601.30V996.40M653.50 601.30V996.40M702.10 601.30V996.40M750.70 601.30V996.40M799.30 601.30V996.40M847.90 601.30V996.40M507.70 820.80H896.50" stroke="#7a7a7a" stroke-width="1" fill="none"/>
<path d="M507.70 952.50h3M896.50 952.50h-3M507.70 908.60h3M896.50 908.60h-3M507.70 864.70h3M896.50 864.70h-3M507.70 820.80h3M896.50 820.80h-3M507.70 776.90h3M896.50 776.90h-3M507.70 733.00h3M896.50 733.00h-3M507.70 689.10h3M896.50 689.10h-3M507.70 645.20h3M896.50 645.20h-3M556.30 601.30v3M556.30 996.40v-3M604.90 601.30v3M604.90 996.40v-3M653.50 601.30v3M653.50 996.40v-3M702.10 601.30v3M702.10 996.40v-3M750.70 601.30v3M750.70 996.40v-3M799.30 601.30v3M799.30 996.40v-3M847.90 601.30v3M847.90 996.40v-3" stroke="#222" stroke-width="1.3" fill="none"/>
<rect x="507.70" y="601.30" width="388.80" height="395.10" fill="none" stroke="#1a1a1a" stroke-width="1.70"/>
<text x="499.40" y="1000.70" font-size="10.20" fill="#1a1a1a" font-weight="bold" text-anchor="end" textLength="14.60" lengthAdjust="spacingAndGlyphs">0.0</text>
<text x="499.40" y="956.80" font-size="10.20" fill="#1a1a1a" font-weight="bold" text-anchor="end" textLength="14.60" lengthAdjust="spacingAndGlyphs">0.1</text>
<text x="499.40" y="912.90" font-size="10.20" fill="#1a1a1a" font-weight="bold" text-anchor="end" textLength="14.60" lengthAdjust="spacingAndGlyphs">0.2</text>
<text x="499.40" y="869.00" font-size="10.20" fill="#1a1a1a" font-weight="bold" text-anchor="end" textLength="14.60" lengthAdjust="spacingAndGlyphs">0.3</text>
<text x="499.40" y="825.10" font-size="10.20" fill="#1a1a1a" font-weight="bold" text-anchor="end" textLength="14.60" lengthAdjust="spacingAndGlyphs">0.4</text>
<text x="499.40" y="781.20" font-size="10.20" fill="#1a1a1a" font-weight="bold" text-anchor="end" textLength="14.60" lengthAdjust="spacingAndGlyphs">0.5</text>
<text x="499.40" y="737.30" font-size="10.20" fill="#1a1a1a" font-weight="bold" text-anchor="end" textLength="14.60" lengthAdjust="spacingAndGlyphs">0.6</text>
<text x="499.40" y="693.40" font-size="10.20" fill="#1a1a1a" font-weight="bold" text-anchor="end" textLength="14.60" lengthAdjust="spacingAndGlyphs">0.7</text>
<text x="499.40" y="649.50" font-size="10.20" fill="#1a1a1a" font-weight="bold" text-anchor="end" textLength="14.60" lengthAdjust="spacingAndGlyphs">0.8</text>
<text x="499.40" y="605.60" font-size="10.20" fill="#1a1a1a" font-weight="bold" text-anchor="end" textLength="14.60" lengthAdjust="spacingAndGlyphs">0.9</text>
<text x="507.70" y="1015.80" font-size="10.40" fill="#1a1a1a" font-weight="bold" text-anchor="middle" textLength="5.60" lengthAdjust="spacingAndGlyphs">0</text>
<text x="556.30" y="1015.80" font-size="10.40" fill="#1a1a1a" font-weight="bold" text-anchor="middle" textLength="14.80" lengthAdjust="spacingAndGlyphs">0.1</text>
<text x="604.90" y="1015.80" font-size="10.40" fill="#1a1a1a" font-weight="bold" text-anchor="middle" textLength="14.80" lengthAdjust="spacingAndGlyphs">0.2</text>
<text x="653.50" y="1015.80" font-size="10.40" fill="#1a1a1a" font-weight="bold" text-anchor="middle" textLength="14.80" lengthAdjust="spacingAndGlyphs">0.3</text>
<text x="702.10" y="1015.80" font-size="10.40" fill="#1a1a1a" font-weight="bold" text-anchor="middle" textLength="14.80" lengthAdjust="spacingAndGlyphs">0.4</text>
<text x="750.70" y="1015.80" font-size="10.40" fill="#1a1a1a" font-weight="bold" text-anchor="middle" textLength="14.80" lengthAdjust="spacingAndGlyphs">0.5</text>
<text x="799.30" y="1015.80" font-size="10.40" fill="#1a1a1a" font-weight="bold" text-anchor="middle" textLength="14.80" lengthAdjust="spacingAndGlyphs">0.6</text>
<text x="847.90" y="1015.80" font-size="10.40" fill="#1a1a1a" font-weight="bold" text-anchor="middle" textLength="14.80" lengthAdjust="spacingAndGlyphs">0.7</text>
<text x="896.50" y="1015.80" font-size="10.40" fill="#1a1a1a" font-weight="bold" text-anchor="middle" textLength="14.80" lengthAdjust="spacingAndGlyphs">0.8</text>
<text x="470.30" y="805.00" font-size="18.00" fill="#222" font-style="italic" class="ser">y</text>
<text x="695.50" y="1030.50" font-size="17.00" fill="#222" font-style="italic" class="ser">x</text>
<polyline points="512.07,680.32 645.72,768.12 608.30,822.12 514.02,779.53" fill="none" stroke="#62e862" stroke-width="1.80" stroke-linejoin="round"/>
<polyline points="619.29,665.26 649.13,779.53 616.81,826.95 514.02,779.53" fill="none" stroke="#4fb04f" stroke-width="1.30" stroke-linejoin="round" stroke-dasharray="1.3 3.2"/>
<polygon points="646.21,880.50 721.54,828.70 727.86,828.70 727.86,803.24 646.21,850.65" fill="none" stroke="#555" stroke-width="1.30" stroke-linejoin="round"/>
<polyline points="646.21,880.50 721.54,828.70 727.86,828.70" fill="none" stroke="#8a2a9a" stroke-width="1.30" stroke-linejoin="round" stroke-dasharray="4 3"/>
<polyline points="727.86,803.24 646.21,850.65 646.21,880.50" fill="none" stroke="#8a2a9a" stroke-width="1.30" stroke-linejoin="round" stroke-dasharray="4 3"/>
<polyline points="727.86,803.24 740.49,803.24 740.49,828.70 727.86,828.70" fill="none" stroke="#a040b0" stroke-width="1.40" stroke-linejoin="round" stroke-dasharray="2 3"/>
<polyline points="792.74,815.09 790.07,815.97 777.43,805.43 779.86,803.24" fill="none" stroke="#b0b040" stroke-width="1.40" stroke-linejoin="round"/>
<polygon points="776.46,804.56 780.35,802.80 799.79,820.36 797.36,822.12" fill="none" stroke="#a0602a" stroke-width="1.20" stroke-linejoin="round" stroke-dasharray="3 1.5"/>
<polygon points="828.46,855.92 838.18,855.92 852.76,869.09 843.04,869.09" fill="none" stroke="#ff2030" stroke-width="1.40" stroke-linejoin="round"/>
<polyline points="821.17,848.02 826.03,850.65" fill="none" stroke="#c03030" stroke-width="1.20" stroke-linejoin="round" stroke-dasharray="1.5 2.5"/>
<polyline points="558.24,952.50 580.60,952.50 592.75,965.67 580.11,985.42" fill="none" stroke="#2f55ff" stroke-width="1.60" stroke-linejoin="round"/>
<polyline points="592.31,994.20 592.28,994.21 592.24,994.22 592.19,994.24 592.14,994.25 592.08,994.26 592.03,994.27 591.97,994.29 591.92,994.29 591.88,994.30 591.84,994.30 591.80,994.31 591.77,994.31 591.73,994.31 591.68,994.30 591.64,994.30 591.58,994.29 591.53,994.29 591.47,994.28 591.41,994.28 591.35,994.28 591.28,994.26 591.20,994.24 591.11,994.21 591.00,994.16 590.89,994.10 590.76,994.03 590.63,993.96 590.49,993.87 590.34,993.77 590.17,993.65 589.99,993.52 589.79,993.37 589.55,993.19 589.29,992.99 589.01,992.76 588.72,992.52 588.42,992.28 588.13,992.04 587.85,991.82 587.60,991.61 587.37,991.44 587.17,991.27 586.98,991.12 586.80,990.98 586.61,990.83 586.42,990.68 586.22,990.52 585.99,990.34 585.75,990.15 585.50,989.96 585.24,989.75 584.97,989.54 584.69,989.33 584.41,989.10 584.11,988.87 583.81,988.63 583.50,988.38 583.18,988.14 582.86,987.88 582.52,987.62 582.18,987.34 581.83,987.06 581.46,986.75 581.09,986.43 580.70,986.10 580.30,985.76 579.89,985.41 579.47,985.04 579.04,984.66 578.60,984.25 578.15,983.82 577.68,983.36 577.21,982.89 576.74,982.42 576.25,981.93 575.75,981.42 575.24,980.87 574.70,980.27 574.14,979.61 573.55,978.88 572.94,978.10 572.30,977.27 571.64,976.40 570.97,975.47 570.26,974.48 569.54,973.41 568.79,972.26 568.01,971.03 567.22,969.72 566.40,968.36 565.56,966.93 564.70,965.43 563.81,963.83 562.89,962.11 561.95,960.27 560.97,958.29 559.96,956.20 558.92,954.01 557.86,951.71 556.76,949.29 555.64,946.74 554.49,944.04 553.30,941.18 552.07,938.14 550.80,934.96 549.48,931.63 548.12,928.17 546.73,924.55 545.32,920.76 543.91,916.79 542.49,912.64 541.09,908.29 539.68,903.74 538.27,899.00 536.84,894.07 535.41,888.96 533.98,883.68 532.56,878.24 531.15,872.64 529.76,866.89 528.38,860.95 526.98,854.78 525.58,848.43 524.20,841.92 522.85,835.31 521.54,828.63 520.29,821.92 519.12,815.22 518.00,808.47 516.91,801.58 515.86,794.61 514.87,787.60 513.94,780.59 513.09,773.63 512.34,766.77 511.69,760.04 511.12,753.40 510.62,746.76 510.20,740.18 509.87,733.66 509.64,727.25 509.50,720.97 509.49,714.86 509.60,708.94 509.82,703.17 510.15,697.48 510.59,691.91 511.14,686.50 511.79,681.28 512.56,676.28 513.45,671.53 514.46,667.06 515.59,662.85 516.86,658.83 518.26,655.04 519.76,651.48 521.36,648.17 523.04,645.13 524.79,642.38 526.61,639.93 528.50,637.81 530.50,636.00 532.59,634.49 534.76,633.24 536.98,632.23 539.24,631.44 541.52,630.82 543.81,630.36 546.13,630.12 548.50,630.16 550.91,630.42 553.35,630.87 555.81,631.47 558.28,632.17 560.75,632.93 563.20,633.70 565.66,634.53 568.13,635.49 570.61,636.55 573.09,637.70 575.57,638.89 578.04,640.13 580.48,641.37 582.88,642.61 585.26,643.85 587.62,645.12 589.96,646.42 592.28,647.75 594.59,649.10 596.89,650.48 599.17,651.87 601.45,653.28 603.72,654.70 605.97,656.15 608.20,657.62 610.43,659.11 612.65,660.62 614.86,662.15 617.07,663.70 619.29,665.26 621.50,666.85 623.71,668.45 625.91,670.08 628.11,671.72 630.31,673.38 632.50,675.05 634.69,676.74 636.88,678.43 639.06,680.14 641.24,681.87 643.42,683.61 645.59,685.36 647.77,687.13 649.94,688.90 652.11,690.69 654.28,692.48 656.45,694.28 658.62,696.09 660.79,697.91 662.95,699.75 665.12,701.59 667.29,703.43 669.46,705.28 671.63,707.14 673.80,709.01 675.98,710.88 678.15,712.76 680.33,714.65 682.51,716.55 684.68,718.44 686.86,720.34 689.03,722.24 691.19,724.15 693.36,726.06 695.53,727.97 697.69,729.89 699.85,731.81 702.01,733.73 704.17,735.65 706.33,737.57 708.49,739.48 710.64,741.40 712.80,743.32 714.96,745.24 717.11,747.15 719.26,749.07 721.40,750.98 723.53,752.89 725.66,754.79 727.78,756.69 729.90,758.60 732.02,760.50 734.12,762.39 736.22,764.28 738.31,766.16 740.40,768.03 742.47,769.90 744.54,771.76 746.60,773.62 748.66,775.47 750.70,777.31 752.74,779.15 754.76,780.97 756.77,782.78 758.78,784.58 760.77,786.38 762.75,788.17 764.72,789.94 766.68,791.71 768.63,793.46 770.56,795.20 772.47,796.92 774.37,798.63 776.26,800.32 778.14,802.00 780.00,803.67 781.84,805.32 783.67,806.96 785.47,808.58 787.25,810.18 789.00,811.76 790.75,813.33 792.47,814.89 794.17,816.43 795.85,817.94 797.50,819.44 799.12,820.90 800.71,822.34 802.27,823.74 803.79,825.11 805.29,826.46 806.76,827.79 808.21,829.09 809.63,830.37 811.04,831.63 812.42,832.87 813.79,834.10 815.14,835.32 816.47,836.51 817.77,837.69 819.05,838.84 820.31,839.96 821.53,841.06 822.73,842.14 823.89,843.18 825.02,844.19 826.13,845.18 827.21,846.14 828.27,847.08 829.29,848.00 830.30,848.90 831.28,849.77 832.23,850.63 833.16,851.47 834.06,852.28 834.94,853.08 835.80,853.85 836.63,854.60 837.44,855.34 838.23,856.05 839.00,856.75 839.74,857.42 840.46,858.07 841.16,858.70 841.84,859.31 842.50,859.91 843.14,860.49 843.77,861.06 844.38,861.61 844.97,862.14 845.55,862.65 846.10,863.14 846.65,863.63 847.17,864.10 847.69,864.56 848.19,865.01 848.68,865.45 849.15,865.87 849.61,866.29 850.06,866.69 850.49,867.08 850.91,867.47 851.33,867.84 851.74,868.21 852.14,868.58 852.53,868.93 852.92,869.28 853.29,869.61 853.66,869.94 854.01,870.27 854.36,870.58 854.70,870.89 855.03,871.18 855.33,871.45 855.61,871.71 855.89,871.97 856.18,872.22 856.47,872.49 856.79,872.77 857.13,873.08 857.52,873.43 857.95,873.81 858.40,874.22 858.87,874.63 859.32,875.03 859.77,875.43 860.17,875.79 860.54,876.11 860.86,876.40 861.15,876.66 861.41,876.90 861.66,877.13 861.89,877.33 862.10,877.52 862.29,877.70 862.48,877.87 862.65,878.02 862.80,878.16 862.93,878.28 863.04,878.38 863.15,878.48 863.25,878.57 863.35,878.66 863.45,878.75 863.55,878.84 863.64,878.92 863.73,879.00 863.81,879.07 863.89,879.15 863.97,879.22 864.05,879.29 864.13,879.36 864.22,879.44 864.31,879.52 864.40,879.60 864.49,879.69 864.58,879.76 864.65,879.83 864.72,879.89 864.76,879.93" fill="none" stroke="#222" stroke-width="1.5" stroke-linejoin="round"/>
<line x1="592.31" y1="994.20" x2="864.76" y2="879.93" stroke="#444" stroke-width="1.40"/>
<polyline points="624.29,893.59 630.40,885.66 631.74,884.01 633.16,882.28 634.66,880.49 636.24,878.63 637.89,876.73 639.61,874.78 641.39,872.79 643.24,870.78 645.14,868.74 647.11,866.69 649.13,864.64 651.20,862.58 653.31,860.52 655.47,858.48 657.67,856.45 659.91,854.44 662.19,852.46 664.49,850.50 666.83,848.58 669.19,846.70 671.57,844.86 673.97,843.07 676.39,841.32 678.82,839.62 681.26,837.97 683.71,836.37 686.16,834.83 688.61,833.34 691.06,831.91 693.54,830.50 695.97,829.17 698.37,827.90 700.76,826.69 703.12,825.55 705.46,824.47 707.78,823.45 710.08,822.49 712.35,821.59 714.60,820.75 716.82,819.97 719.03,819.24 721.20,818.56 723.35,817.94 725.48,817.37 727.58,816.85 729.66,816.39 731.71,815.96 733.74,815.59 735.74,815.26 737.71,814.98 739.65,814.73 741.57,814.53 743.46,814.37 745.32,814.25 747.16,814.16 748.97,814.11 750.75,814.09 752.50,814.11 754.22,814.15 755.91,814.22 757.57,814.32 759.20,814.45 760.80,814.61 762.38,814.79 763.92,815.00 765.43,815.23 766.91,815.48 768.35,815.75 769.77,816.03 771.15,816.34 772.50,816.65 773.82,816.98 775.11,817.32 776.36,817.68 777.58,818.04 778.76,818.40 779.91,818.78 781.03,819.15 782.11,819.53 786.28,821.11 792.35,823.83 798.57,827.03 811.50,835.11 824.96,845.21" fill="none" stroke="#222" stroke-width="1.3" stroke-linejoin="round"/>
<circle cx="660.06" cy="854.34" r="2.9" fill="#fff" stroke="#222" stroke-width="1.2"/>
<circle cx="725.23" cy="817.55" r="2.9" fill="#fff" stroke="#222" stroke-width="1.2"/>
<circle cx="592.31" cy="994.20" r="2.9" fill="#fff" stroke="#222" stroke-width="1.2"/>
<circle cx="577.68" cy="983.36" r="2.9" fill="#fff" stroke="#222" stroke-width="1.2"/>
<circle cx="552.07" cy="938.14" r="2.9" fill="#fff" stroke="#222" stroke-width="1.2"/>
<circle cx="529.76" cy="866.89" r="2.9" fill="#fff" stroke="#222" stroke-width="1.2"/>
<circle cx="511.69" cy="760.04" r="2.9" fill="#fff" stroke="#222" stroke-width="1.2"/>
<circle cx="514.46" cy="667.06" r="2.9" fill="#fff" stroke="#222" stroke-width="1.2"/>
<circle cx="543.81" cy="630.36" r="2.9" fill="#fff" stroke="#222" stroke-width="1.2"/>
<circle cx="582.88" cy="642.61" r="2.9" fill="#fff" stroke="#222" stroke-width="1.2"/>
<circle cx="619.29" cy="665.26" r="2.9" fill="#fff" stroke="#222" stroke-width="1.2"/>
<circle cx="654.28" cy="692.48" r="2.9" fill="#fff" stroke="#222" stroke-width="1.2"/>
<circle cx="689.03" cy="722.24" r="2.9" fill="#fff" stroke="#222" stroke-width="1.2"/>
<circle cx="723.53" cy="752.89" r="2.9" fill="#fff" stroke="#222" stroke-width="1.2"/>
<circle cx="756.77" cy="782.78" r="2.9" fill="#fff" stroke="#222" stroke-width="1.2"/>
<circle cx="787.25" cy="810.18" r="2.9" fill="#fff" stroke="#222" stroke-width="1.2"/>
<circle cx="812.42" cy="832.87" r="2.9" fill="#fff" stroke="#222" stroke-width="1.2"/>
<circle cx="843.77" cy="861.06" r="2.9" fill="#fff" stroke="#222" stroke-width="1.2"/>
<circle cx="857.13" cy="873.08" r="2.9" fill="#fff" stroke="#222" stroke-width="1.2"/>
<circle cx="864.76" cy="879.93" r="2.9" fill="#fff" stroke="#222" stroke-width="1.2"/>
<text x="587.80" y="1008.70" font-size="10.20" fill="#333" font-style="italic" textLength="17.20" lengthAdjust="spacingAndGlyphs">380</text>
<text x="566.80" y="991.60" font-size="10.20" fill="#333" font-style="italic" textLength="16.20" lengthAdjust="spacingAndGlyphs">460</text>
<text x="552.30" y="932.50" font-size="10.20" fill="#333" font-style="italic" textLength="16.70" lengthAdjust="spacingAndGlyphs">480</text>
<text x="529.30" y="861.60" font-size="10.20" fill="#333" font-style="italic" textLength="16.60" lengthAdjust="spacingAndGlyphs">490</text>
<text x="512.90" y="754.70" font-size="10.20" fill="#333" font-style="italic" textLength="16.90" lengthAdjust="spacingAndGlyphs">500</text>
<text x="514.70" y="680.00" font-size="10.20" fill="#333" font-style="italic" textLength="17.00" lengthAdjust="spacingAndGlyphs">510</text>
<text x="544.00" y="625.10" font-size="10.20" fill="#333" font-style="italic" textLength="15.50" lengthAdjust="spacingAndGlyphs">520</text>
<text x="582.70" y="638.90" font-size="10.20" fill="#333" font-style="italic" textLength="19.20" lengthAdjust="spacingAndGlyphs">530</text>
<text x="620.70" y="659.90" font-size="10.20" fill="#333" font-style="italic" textLength="16.00" lengthAdjust="spacingAndGlyphs">540</text>
<text x="660.70" y="697.00" font-size="10.20" fill="#333" font-style="italic" textLength="16.30" lengthAdjust="spacingAndGlyphs">550</text>
<text x="693.90" y="721.70" font-size="10.20" fill="#333" font-style="italic" textLength="15.80" lengthAdjust="spacingAndGlyphs">560</text>
<text x="723.70" y="750.30" font-size="10.20" fill="#333" font-style="italic" textLength="16.40" lengthAdjust="spacingAndGlyphs">570</text>
<text x="757.40" y="778.80" font-size="10.20" fill="#333" font-style="italic" textLength="16.40" lengthAdjust="spacingAndGlyphs">580</text>
<text x="788.00" y="805.60" font-size="10.20" fill="#333" font-style="italic" textLength="16.60" lengthAdjust="spacingAndGlyphs">590</text>
<text x="810.80" y="827.30" font-size="10.20" fill="#333" font-style="italic" textLength="16.20" lengthAdjust="spacingAndGlyphs">600</text>
<text x="846.00" y="856.60" font-size="10.20" fill="#333" font-style="italic" textLength="16.90" lengthAdjust="spacingAndGlyphs">620</text>
<text x="860.70" y="872.40" font-size="10.20" fill="#333" font-style="italic" textLength="16.90" lengthAdjust="spacingAndGlyphs">640</text>
<text x="864.90" y="891.20" font-size="10.20" fill="#333" font-style="italic" textLength="16.90" lengthAdjust="spacingAndGlyphs">780</text>
<text x="706.30" y="701.00" font-size="13.20" fill="#222" font-style="italic" textLength="115.50" lengthAdjust="spacingAndGlyphs">Spectrum locus (nm)</text>
<text x="574.50" y="912.40" font-size="13.20" fill="#222" font-style="italic" textLength="115.00" lengthAdjust="spacingAndGlyphs">Planckian locus (° K)</text>
<text x="629.80" y="847.50" font-size="10.50" fill="#333" font-style="italic" textLength="30.50" lengthAdjust="spacingAndGlyphs">6500 K</text>
<text x="695.00" y="813.50" font-size="10.50" fill="#333" font-style="italic" textLength="31.00" lengthAdjust="spacingAndGlyphs">2856 K</text>
<text x="609.50" y="892.50" font-size="10.50" fill="#333" font-style="italic" textLength="16.00" lengthAdjust="spacingAndGlyphs">∞ K</text>
<text x="557.30" y="703.50" font-size="11.00" fill="#3f9a3f" font-weight="bold" font-style="italic" textLength="60.80" lengthAdjust="spacingAndGlyphs">Green Temp</text>
<text x="542.80" y="769.50" font-size="11.00" fill="#5fe35f" font-weight="bold" textLength="81.50" lengthAdjust="spacingAndGlyphs">Green Optimum</text>
<text x="733.60" y="839.50" font-size="11.00" fill="#8e2a9e" font-weight="bold" font-style="italic" textLength="58.80" lengthAdjust="spacingAndGlyphs">White Temp</text>
<text x="675.00" y="870.20" font-size="11.00" fill="#111" font-weight="bold" textLength="76.60" lengthAdjust="spacingAndGlyphs">White Optimum</text>
<text x="807.20" y="804.90" font-size="11.00" fill="#a3a352" font-weight="bold" textLength="82.30" lengthAdjust="spacingAndGlyphs">Yellow Optimum</text>
<text x="812.80" y="815.00" font-size="11.00" fill="#8a5a2e" font-weight="bold" font-style="italic" textLength="55.80" lengthAdjust="spacingAndGlyphs">Yellow Temp</text>
<text x="770.20" y="860.10" font-size="11.00" fill="#9a2a2a" font-weight="bold" font-style="italic" textLength="50.90" lengthAdjust="spacingAndGlyphs">Red Temp</text>
<text x="780.70" y="878.30" font-size="11.00" fill="#ff2a40" font-weight="bold" textLength="68.70" lengthAdjust="spacingAndGlyphs">Red Optimum</text>
<text x="583.90" y="961.50" font-size="11.00" fill="#3355ff" font-weight="bold" textLength="70.30" lengthAdjust="spacingAndGlyphs">Blue Optimum</text>
<defs><clipPath id="wtop"><rect x="0" y="1200" width="1002" height="136"/></clipPath><clipPath id="wbot"><rect x="0" y="1336" width="1002" height="80"/></clipPath></defs>
<g opacity="0.72">
<polygon points="73.40,1262.70 80.13,1293.53 96.05,1266.29 92.92,1297.69 116.48,1276.70 103.81,1305.59 132.70,1292.92 111.71,1316.48 143.11,1313.35 115.87,1329.27 146.70,1336.00 115.87,1342.73 143.11,1358.65 111.71,1355.52 132.70,1379.08 103.81,1366.41 116.48,1395.30 92.92,1374.31 96.05,1405.71 80.13,1378.47 73.40,1409.30 66.67,1378.47 50.75,1405.71 53.88,1374.31 30.32,1395.30 42.99,1366.41 14.10,1379.08 35.09,1355.52 3.69,1358.65 30.93,1342.73 0.10,1336.00 30.93,1329.27 3.69,1313.35 35.09,1316.48 14.10,1292.92 42.99,1305.59 30.32,1276.70 53.88,1297.69 50.75,1266.29 66.67,1293.53" fill="#2c88b8"/>
<path d="M33.70 1336.00 A39.7 39.7 0 0 1 113.10 1336.00 Z" fill="#fff"/>
<g clip-path="url(#wbot)" fill="#2c88b8" stroke="#2c88b8" stroke-width="8.0" stroke-linejoin="round"><text font-size="104.0" font-weight="bold" class="ser" lengthAdjust="spacingAndGlyphs" x="162.60" y="1371.50" textLength="47.90">S</text><text font-size="104.0" font-weight="bold" class="ser" lengthAdjust="spacingAndGlyphs" x="219.00" y="1371.50" textLength="58.18">E</text><text font-size="104.0" font-weight="bold" class="ser" lengthAdjust="spacingAndGlyphs" x="282.80" y="1371.50" textLength="60.78">A</text><text font-size="104.0" font-weight="bold" class="ser" lengthAdjust="spacingAndGlyphs" x="349.00" y="1371.50" textLength="50.15">T</text><text font-size="104.0" font-weight="bold" class="ser" lengthAdjust="spacingAndGlyphs" x="407.00" y="1371.50" textLength="72.51">R</text><text font-size="104.0" font-weight="bold" class="ser" lengthAdjust="spacingAndGlyphs" x="484.50" y="1371.50" textLength="67.30">A</text><text font-size="104.0" font-weight="bold" class="ser" lengthAdjust="spacingAndGlyphs" x="560.00" y="1371.50" textLength="35.51">C</text><text font-size="104.0" font-weight="bold" class="ser" lengthAdjust="spacingAndGlyphs" x="605.60" y="1371.50" textLength="65.91">K</text><text font-size="104.0" font-weight="bold" class="ser" lengthAdjust="spacingAndGlyphs" x="682.00" y="1371.50" textLength="52.76">E</text><text font-size="104.0" font-weight="bold" class="ser" lengthAdjust="spacingAndGlyphs" x="744.80" y="1371.50" textLength="60.53">R</text><text font-size="104.0" font-weight="bold" class="ser" lengthAdjust="spacingAndGlyphs" x="816.70" y="1371.50" textLength="16.70">.</text><text font-size="104.0" font-weight="bold" class="ser" lengthAdjust="spacingAndGlyphs" x="848.00" y="1371.50" textLength="60.62">R</text><text font-size="104.0" font-weight="bold" class="ser" lengthAdjust="spacingAndGlyphs" x="920.00" y="1371.50" textLength="61.79">U</text></g>
<g clip-path="url(#wtop)" stroke-linejoin="round"><g fill="none" stroke="#2c88b8" stroke-width="11.6"><text font-size="104.0" font-weight="bold" class="ser" lengthAdjust="spacingAndGlyphs" x="162.60" y="1371.50" textLength="47.90">S</text><text font-size="104.0" font-weight="bold" class="ser" lengthAdjust="spacingAndGlyphs" x="219.00" y="1371.50" textLength="58.18">E</text><text font-size="104.0" font-weight="bold" class="ser" lengthAdjust="spacingAndGlyphs" x="282.80" y="1371.50" textLength="60.78">A</text><text font-size="104.0" font-weight="bold" class="ser" lengthAdjust="spacingAndGlyphs" x="349.00" y="1371.50" textLength="50.15">T</text><text font-size="104.0" font-weight="bold" class="ser" lengthAdjust="spacingAndGlyphs" x="407.00" y="1371.50" textLength="72.51">R</text><text font-size="104.0" font-weight="bold" class="ser" lengthAdjust="spacingAndGlyphs" x="484.50" y="1371.50" textLength="67.30">A</text><text font-size="104.0" font-weight="bold" class="ser" lengthAdjust="spacingAndGlyphs" x="560.00" y="1371.50" textLength="35.51">C</text><text font-size="104.0" font-weight="bold" class="ser" lengthAdjust="spacingAndGlyphs" x="605.60" y="1371.50" textLength="65.91">K</text><text font-size="104.0" font-weight="bold" class="ser" lengthAdjust="spacingAndGlyphs" x="682.00" y="1371.50" textLength="52.76">E</text><text font-size="104.0" font-weight="bold" class="ser" lengthAdjust="spacingAndGlyphs" x="744.80" y="1371.50" textLength="60.53">R</text><text font-size="104.0" font-weight="bold" class="ser" lengthAdjust="spacingAndGlyphs" x="816.70" y="1371.50" textLength="16.70">.</text><text font-size="104.0" font-weight="bold" class="ser" lengthAdjust="spacingAndGlyphs" x="848.00" y="1371.50" textLength="60.62">R</text><text font-size="104.0" font-weight="bold" class="ser" lengthAdjust="spacingAndGlyphs" x="920.00" y="1371.50" textLength="61.79">U</text></g><g fill="#fff" stroke="#fff" stroke-width="6.4"><text font-size="104.0" font-weight="bold" class="ser" lengthAdjust="spacingAndGlyphs" x="162.60" y="1371.50" textLength="47.90">S</text><text font-size="104.0" font-weight="bold" class="ser" lengthAdjust="spacingAndGlyphs" x="219.00" y="1371.50" textLength="58.18">E</text><text font-size="104.0" font-weight="bold" class="ser" lengthAdjust="spacingAndGlyphs" x="282.80" y="1371.50" textLength="60.78">A</text><text font-size="104.0" font-weight="bold" class="ser" lengthAdjust="spacingAndGlyphs" x="349.00" y="1371.50" textLength="50.15">T</text><text font-size="104.0" font-weight="bold" class="ser" lengthAdjust="spacingAndGlyphs" x="407.00" y="1371.50" textLength="72.51">R</text><text font-size="104.0" font-weight="bold" class="ser" lengthAdjust="spacingAndGlyphs" x="484.50" y="1371.50" textLength="67.30">A</text><text font-size="104.0" font-weight="bold" class="ser" lengthAdjust="spacingAndGlyphs" x="560.00" y="1371.50" textLength="35.51">C</text><text font-size="104.0" font-weight="bold" class="ser" lengthAdjust="spacingAndGlyphs" x="605.60" y="1371.50" textLength="65.91">K</text><text font-size="104.0" font-weight="bold" class="ser" lengthAdjust="spacingAndGlyphs" x="682.00" y="1371.50" textLength="52.76">E</text><text font-size="104.0" font-weight="bold" class="ser" lengthAdjust="spacingAndGlyphs" x="744.80" y="1371.50" textLength="60.53">R</text><text font-size="104.0" font-weight="bold" class="ser" lengthAdjust="spacingAndGlyphs" x="816.70" y="1371.50" textLength="16.70">.</text><text font-size="104.0" font-weight="bold" class="ser" lengthAdjust="spacingAndGlyphs" x="848.00" y="1371.50" textLength="60.62">R</text><text font-size="104.0" font-weight="bold" class="ser" lengthAdjust="spacingAndGlyphs" x="920.00" y="1371.50" textLength="61.79">U</text></g></g>
</g>
<text x="945.30" y="1340.60" font-size="17.00" fill="#000" class="ser">1</text>
</svg>
</body></html>
